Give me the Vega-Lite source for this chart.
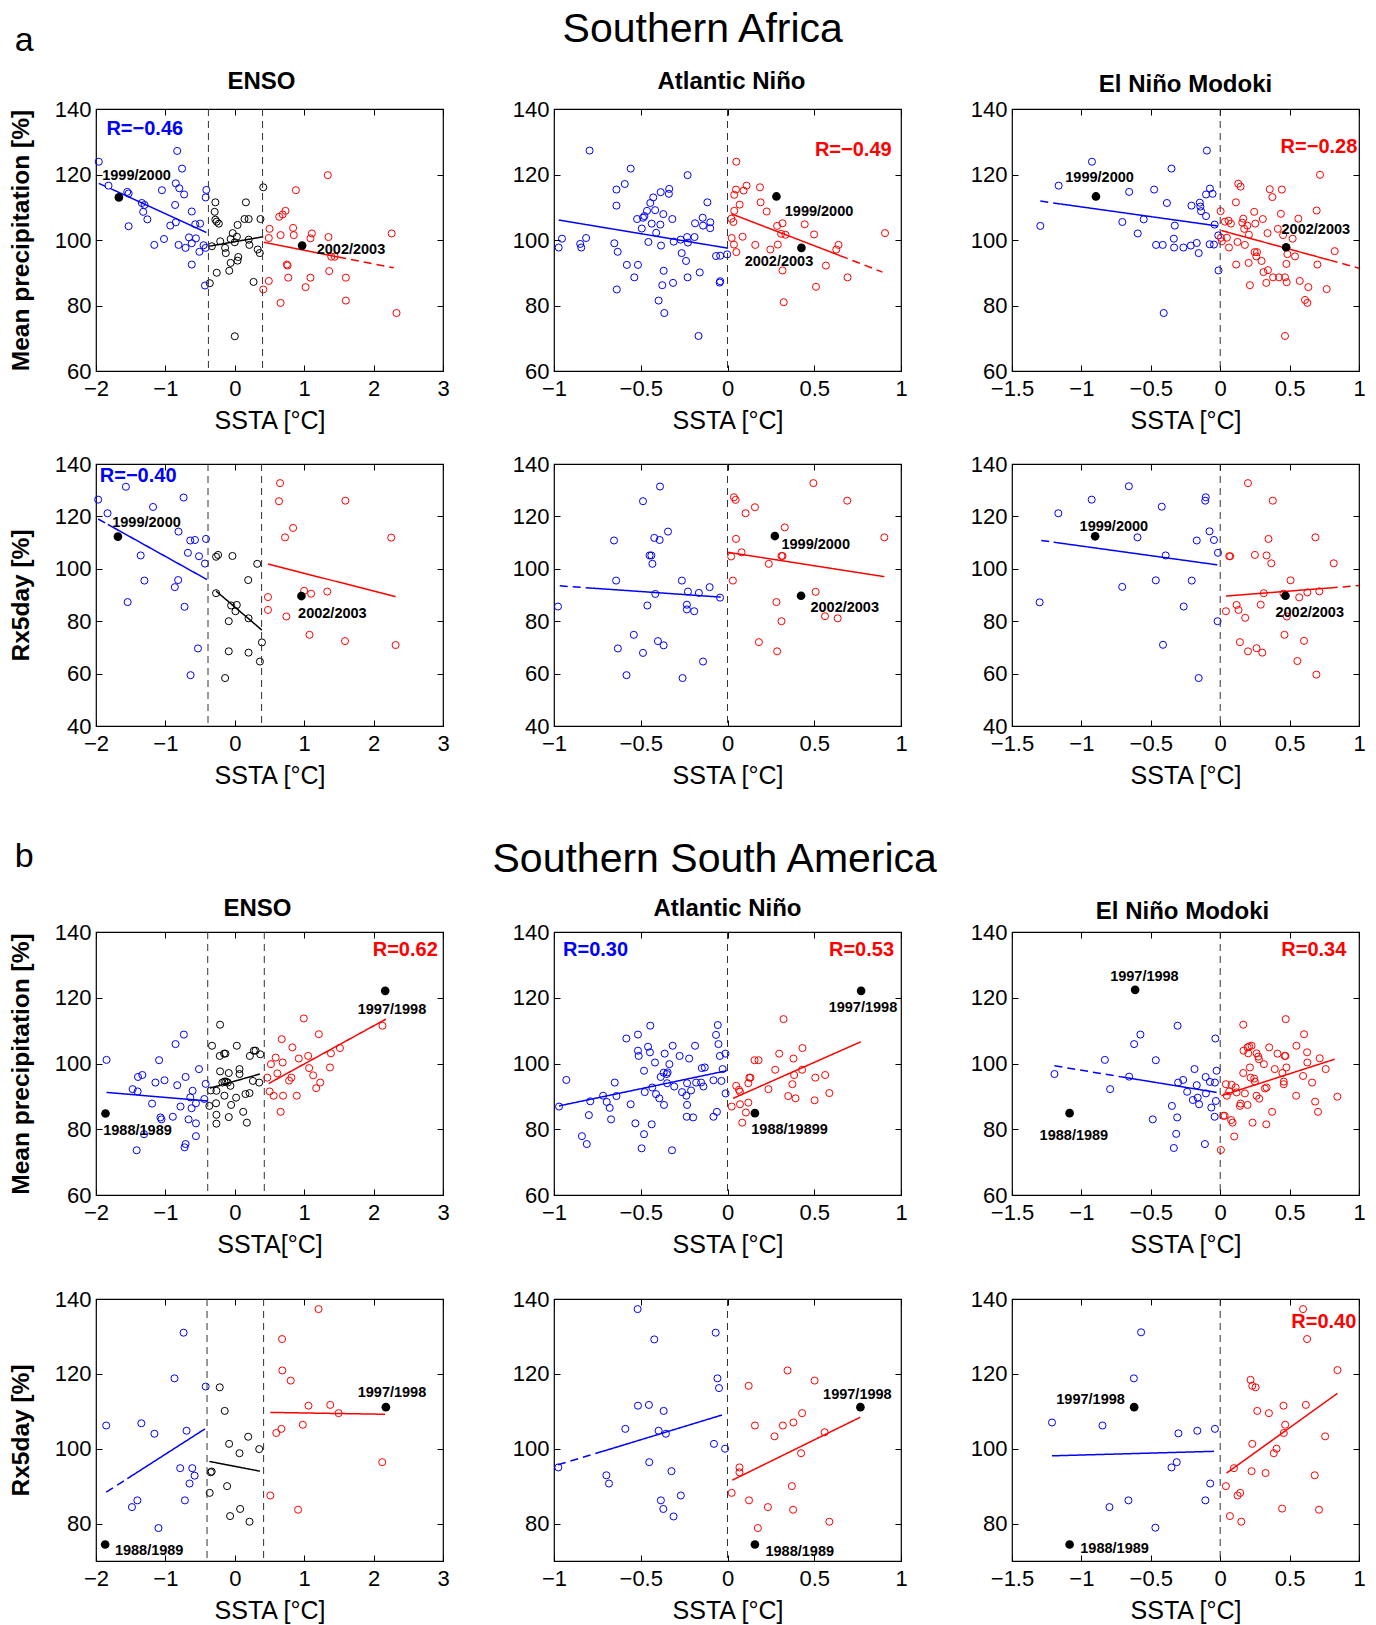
{
"$schema":"https://vega.github.io/schema/vega-lite/v6.json",
"autosize":{"type":"pad"},
"padding":{"left":7,"top":9,"right":5,"bottom":2},
"background":"#ffffff",
"spacing":50,
"datasets":{
"pts":[
{"p":"A1","g":"n","x":-1.96,"y":123.9},{"p":"A1","g":"n","x":-1.82,"y":116.6},{"p":"A1","g":"n","x":-0.83,"y":127.2},{"p":"A1","g":"n","x":-0.76,"y":121.8},{"p":"A1","g":"n","x":-1.55,"y":114.7},{"p":"A1","g":"n","x":-1.53,"y":114.2},{"p":"A1","g":"n","x":-1.34,"y":111.3},{"p":"A1","g":"n","x":-1.30,"y":110.7},{"p":"A1","g":"n","x":-1.32,"y":108.6},{"p":"A1","g":"n","x":-1.26,"y":106.3},{"p":"A1","g":"n","x":-1.53,"y":104.2},{"p":"A1","g":"n","x":-1.16,"y":98.5},{"p":"A1","g":"n","x":-1.02,"y":100.3},{"p":"A1","g":"n","x":-1.05,"y":115.2},{"p":"A1","g":"n","x":-0.85,"y":117.3},{"p":"A1","g":"n","x":-0.80,"y":115.8},{"p":"A1","g":"n","x":-0.73,"y":113.9},{"p":"A1","g":"n","x":-0.86,"y":110.7},{"p":"A1","g":"n","x":-0.85,"y":105.4},{"p":"A1","g":"n","x":-0.93,"y":104.4},{"p":"A1","g":"n","x":-0.62,"y":108.7},{"p":"A1","g":"n","x":-0.57,"y":104.8},{"p":"A1","g":"n","x":-0.50,"y":105.0},{"p":"A1","g":"n","x":-0.41,"y":115.3},{"p":"A1","g":"n","x":-0.42,"y":113.0},{"p":"A1","g":"n","x":-0.81,"y":98.5},{"p":"A1","g":"n","x":-0.71,"y":97.6},{"p":"A1","g":"n","x":-0.66,"y":100.8},{"p":"A1","g":"n","x":-0.62,"y":99.0},{"p":"A1","g":"n","x":-0.56,"y":100.5},{"p":"A1","g":"n","x":-0.51,"y":96.4},{"p":"A1","g":"n","x":-0.45,"y":98.4},{"p":"A1","g":"n","x":-0.42,"y":97.6},{"p":"A1","g":"n","x":-0.62,"y":92.5},{"p":"A1","g":"n","x":-0.43,"y":86.1},
{"p":"A1","g":"m","x":-0.36,"y":86.8},{"p":"A1","g":"m","x":-0.26,"y":90.0},{"p":"A1","g":"m","x":-0.08,"y":90.6},{"p":"A1","g":"m","x":-0.06,"y":93.0},{"p":"A1","g":"m","x":0.04,"y":93.7},{"p":"A1","g":"m","x":0.05,"y":94.8},{"p":"A1","g":"m","x":0.0,"y":70.6},{"p":"A1","g":"m","x":0.27,"y":87.2},{"p":"A1","g":"m","x":-0.33,"y":98.1},{"p":"A1","g":"m","x":-0.21,"y":99.6},{"p":"A1","g":"m","x":-0.14,"y":97.6},{"p":"A1","g":"m","x":-0.13,"y":96.0},{"p":"A1","g":"m","x":-0.06,"y":100.3},{"p":"A1","g":"m","x":-0.03,"y":102.1},{"p":"A1","g":"m","x":0.0,"y":99.3},{"p":"A1","g":"m","x":0.03,"y":101.0},{"p":"A1","g":"m","x":0.04,"y":104.6},{"p":"A1","g":"m","x":-0.28,"y":111.5},{"p":"A1","g":"m","x":-0.29,"y":108.6},{"p":"A1","g":"m","x":-0.28,"y":106.2},{"p":"A1","g":"m","x":-0.26,"y":105.6},{"p":"A1","g":"m","x":-0.23,"y":105.0},{"p":"A1","g":"m","x":0.16,"y":111.5},{"p":"A1","g":"m","x":0.14,"y":106.4},{"p":"A1","g":"m","x":0.20,"y":106.4},{"p":"A1","g":"m","x":0.37,"y":106.4},{"p":"A1","g":"m","x":0.20,"y":100.1},{"p":"A1","g":"m","x":0.21,"y":98.5},{"p":"A1","g":"m","x":0.33,"y":97.1},{"p":"A1","g":"m","x":0.36,"y":96.0},{"p":"A1","g":"m","x":0.41,"y":116.1},
{"p":"A1","g":"p","x":0.41,"y":84.9},{"p":"A1","g":"p","x":0.49,"y":87.5},{"p":"A1","g":"p","x":0.50,"y":103.4},{"p":"A1","g":"p","x":0.49,"y":100.6},{"p":"A1","g":"p","x":0.64,"y":107.1},{"p":"A1","g":"p","x":0.69,"y":107.8},{"p":"A1","g":"p","x":0.73,"y":108.9},{"p":"A1","g":"p","x":0.66,"y":101.5},{"p":"A1","g":"p","x":0.66,"y":80.8},{"p":"A1","g":"p","x":0.75,"y":92.5},{"p":"A1","g":"p","x":0.76,"y":92.2},{"p":"A1","g":"p","x":0.77,"y":88.5},{"p":"A1","g":"p","x":0.88,"y":115.2},{"p":"A1","g":"p","x":0.84,"y":103.7},{"p":"A1","g":"p","x":0.85,"y":101.5},{"p":"A1","g":"p","x":1.02,"y":85.6},{"p":"A1","g":"p","x":1.09,"y":88.5},{"p":"A1","g":"p","x":1.11,"y":102.0},{"p":"A1","g":"p","x":1.09,"y":100.5},{"p":"A1","g":"p","x":1.34,"y":119.8},{"p":"A1","g":"p","x":1.35,"y":100.9},{"p":"A1","g":"p","x":1.36,"y":90.5},{"p":"A1","g":"p","x":1.39,"y":94.9},{"p":"A1","g":"p","x":1.44,"y":94.9},{"p":"A1","g":"p","x":1.60,"y":88.5},{"p":"A1","g":"p","x":1.60,"y":81.5},{"p":"A1","g":"p","x":2.26,"y":102.0},{"p":"A1","g":"p","x":2.33,"y":77.7},
{"p":"A2","g":"n","x":-0.973,"y":97.7},{"p":"A2","g":"n","x":-0.954,"y":100.4},{"p":"A2","g":"n","x":-0.849,"y":98.8},{"p":"A2","g":"n","x":-0.843,"y":97.7},{"p":"A2","g":"n","x":-0.815,"y":100.6},{"p":"A2","g":"n","x":-0.795,"y":127.3},{"p":"A2","g":"n","x":-0.652,"y":99.0},{"p":"A2","g":"n","x":-0.633,"y":96.4},{"p":"A2","g":"n","x":-0.638,"y":84.9},{"p":"A2","g":"n","x":-0.640,"y":110.5},{"p":"A2","g":"n","x":-0.640,"y":115.4},{"p":"A2","g":"n","x":-0.592,"y":117.1},{"p":"A2","g":"n","x":-0.558,"y":121.8},{"p":"A2","g":"n","x":-0.580,"y":92.4},{"p":"A2","g":"n","x":-0.537,"y":88.6},{"p":"A2","g":"n","x":-0.516,"y":92.4},{"p":"A2","g":"n","x":-0.521,"y":106.4},{"p":"A2","g":"n","x":-0.494,"y":103.5},{"p":"A2","g":"n","x":-0.487,"y":106.8},{"p":"A2","g":"n","x":-0.479,"y":107.3},{"p":"A2","g":"n","x":-0.464,"y":108.9},{"p":"A2","g":"n","x":-0.445,"y":111.3},{"p":"A2","g":"n","x":-0.428,"y":113.0},{"p":"A2","g":"n","x":-0.437,"y":105.0},{"p":"A2","g":"n","x":-0.456,"y":99.4},{"p":"A2","g":"n","x":-0.417,"y":109.1},{"p":"A2","g":"n","x":-0.411,"y":102.2},{"p":"A2","g":"n","x":-0.385,"y":114.6},{"p":"A2","g":"n","x":-0.336,"y":115.6},{"p":"A2","g":"n","x":-0.338,"y":114.1},{"p":"A2","g":"n","x":-0.370,"y":107.9},{"p":"A2","g":"n","x":-0.387,"y":104.7},{"p":"A2","g":"n","x":-0.383,"y":98.3},{"p":"A2","g":"n","x":-0.368,"y":90.6},{"p":"A2","g":"n","x":-0.376,"y":86.2},{"p":"A2","g":"n","x":-0.397,"y":81.5},{"p":"A2","g":"n","x":-0.364,"y":77.7},{"p":"A2","g":"n","x":-0.318,"y":106.4},{"p":"A2","g":"n","x":-0.310,"y":99.5},{"p":"A2","g":"n","x":-0.314,"y":86.9},{"p":"A2","g":"n","x":-0.270,"y":100.1},{"p":"A2","g":"n","x":-0.264,"y":96.0},{"p":"A2","g":"n","x":-0.239,"y":93.6},{"p":"A2","g":"n","x":-0.233,"y":100.9},{"p":"A2","g":"n","x":-0.230,"y":119.8},{"p":"A2","g":"n","x":-0.228,"y":99.2},{"p":"A2","g":"n","x":-0.230,"y":88.6},{"p":"A2","g":"n","x":-0.190,"y":100.9},{"p":"A2","g":"n","x":-0.187,"y":105.1},{"p":"A2","g":"n","x":-0.160,"y":90.1},{"p":"A2","g":"n","x":-0.167,"y":70.7},{"p":"A2","g":"n","x":-0.143,"y":106.8},{"p":"A2","g":"n","x":-0.141,"y":104.4},{"p":"A2","g":"n","x":-0.116,"y":111.5},{"p":"A2","g":"n","x":-0.099,"y":105.4},{"p":"A2","g":"n","x":-0.100,"y":103.6},{"p":"A2","g":"n","x":-0.066,"y":95.1},{"p":"A2","g":"n","x":-0.042,"y":95.2},{"p":"A2","g":"n","x":-0.002,"y":95.6},{"p":"A2","g":"n","x":-0.042,"y":87.4},{"p":"A2","g":"n","x":-0.045,"y":87.0},
{"p":"A2","g":"p","x":0.051,"y":123.9},{"p":"A2","g":"p","x":0.049,"y":115.4},{"p":"A2","g":"p","x":0.039,"y":113.8},{"p":"A2","g":"p","x":0.093,"y":115.1},{"p":"A2","g":"p","x":0.110,"y":116.6},{"p":"A2","g":"p","x":0.070,"y":110.8},{"p":"A2","g":"p","x":0.039,"y":108.9},{"p":"A2","g":"p","x":0.022,"y":106.5},{"p":"A2","g":"p","x":0.034,"y":105.5},{"p":"A2","g":"p","x":0.024,"y":100.6},{"p":"A2","g":"p","x":0.037,"y":98.6},{"p":"A2","g":"p","x":0.051,"y":96.3},{"p":"A2","g":"p","x":0.087,"y":101.0},{"p":"A2","g":"p","x":0.160,"y":98.5},{"p":"A2","g":"p","x":0.187,"y":116.1},{"p":"A2","g":"p","x":0.191,"y":111.5},{"p":"A2","g":"p","x":0.226,"y":108.7},{"p":"A2","g":"p","x":0.247,"y":97.1},{"p":"A2","g":"p","x":0.286,"y":104.3},{"p":"A2","g":"p","x":0.290,"y":98.6},{"p":"A2","g":"p","x":0.317,"y":105.1},{"p":"A2","g":"p","x":0.309,"y":101.9},{"p":"A2","g":"p","x":0.334,"y":101.6},{"p":"A2","g":"p","x":0.317,"y":90.7},{"p":"A2","g":"p","x":0.324,"y":81.0},{"p":"A2","g":"p","x":0.445,"y":104.8},{"p":"A2","g":"p","x":0.499,"y":101.7},{"p":"A2","g":"p","x":0.510,"y":85.7},{"p":"A2","g":"p","x":0.567,"y":92.2},{"p":"A2","g":"p","x":0.627,"y":97.1},{"p":"A2","g":"p","x":0.640,"y":98.5},{"p":"A2","g":"p","x":0.692,"y":88.6},{"p":"A2","g":"p","x":0.908,"y":102.1},
{"p":"A3","g":"n","x":-1.296,"y":104.3},{"p":"A3","g":"n","x":-1.164,"y":116.6},{"p":"A3","g":"n","x":-0.924,"y":123.9},{"p":"A3","g":"n","x":-0.656,"y":114.7},{"p":"A3","g":"n","x":-0.705,"y":105.5},{"p":"A3","g":"n","x":-0.594,"y":102.0},{"p":"A3","g":"n","x":-0.551,"y":106.3},{"p":"A3","g":"n","x":-0.476,"y":115.4},{"p":"A3","g":"n","x":-0.384,"y":111.3},{"p":"A3","g":"n","x":-0.351,"y":121.8},{"p":"A3","g":"n","x":-0.462,"y":98.5},{"p":"A3","g":"n","x":-0.414,"y":98.5},{"p":"A3","g":"n","x":-0.407,"y":77.7},{"p":"A3","g":"n","x":-0.327,"y":104.4},{"p":"A3","g":"n","x":-0.334,"y":100.4},{"p":"A3","g":"n","x":-0.332,"y":97.7},{"p":"A3","g":"n","x":-0.265,"y":97.7},{"p":"A3","g":"n","x":-0.207,"y":110.5},{"p":"A3","g":"n","x":-0.212,"y":98.3},{"p":"A3","g":"n","x":-0.169,"y":99.1},{"p":"A3","g":"n","x":-0.155,"y":96.0},{"p":"A3","g":"n","x":-0.147,"y":111.4},{"p":"A3","g":"n","x":-0.138,"y":108.8},{"p":"A3","g":"n","x":-0.143,"y":110.2},{"p":"A3","g":"n","x":-0.102,"y":107.3},{"p":"A3","g":"n","x":-0.096,"y":127.3},{"p":"A3","g":"n","x":-0.102,"y":113.9},{"p":"A3","g":"n","x":-0.074,"y":115.7},{"p":"A3","g":"n","x":-0.055,"y":114.1},{"p":"A3","g":"n","x":-0.040,"y":104.7},{"p":"A3","g":"n","x":-0.076,"y":98.7},{"p":"A3","g":"n","x":-0.045,"y":98.6},{"p":"A3","g":"n","x":-0.014,"y":101.4},{"p":"A3","g":"n","x":-0.012,"y":90.7},
{"p":"A3","g":"p","x":0.003,"y":108.8},{"p":"A3","g":"p","x":0.005,"y":100.7},{"p":"A3","g":"p","x":0.012,"y":99.6},{"p":"A3","g":"p","x":0.034,"y":105.6},{"p":"A3","g":"p","x":0.060,"y":105.9},{"p":"A3","g":"p","x":0.077,"y":105.0},{"p":"A3","g":"p","x":0.048,"y":100.7},{"p":"A3","g":"p","x":0.063,"y":97.7},{"p":"A3","g":"p","x":0.113,"y":111.5},{"p":"A3","g":"p","x":0.130,"y":117.2},{"p":"A3","g":"p","x":0.147,"y":116.3},{"p":"A3","g":"p","x":0.125,"y":99.4},{"p":"A3","g":"p","x":0.115,"y":92.5},{"p":"A3","g":"p","x":0.166,"y":106.5},{"p":"A3","g":"p","x":0.159,"y":105.3},{"p":"A3","g":"p","x":0.173,"y":103.4},{"p":"A3","g":"p","x":0.195,"y":104.4},{"p":"A3","g":"p","x":0.178,"y":98.5},{"p":"A3","g":"p","x":0.207,"y":101.6},{"p":"A3","g":"p","x":0.205,"y":93.0},{"p":"A3","g":"p","x":0.214,"y":86.2},{"p":"A3","g":"p","x":0.245,"y":108.6},{"p":"A3","g":"p","x":0.253,"y":105.0},{"p":"A3","g":"p","x":0.248,"y":96.3},{"p":"A3","g":"p","x":0.265,"y":96.3},{"p":"A3","g":"p","x":0.260,"y":95.0},{"p":"A3","g":"p","x":0.298,"y":93.6},{"p":"A3","g":"p","x":0.307,"y":106.4},{"p":"A3","g":"p","x":0.312,"y":90.2},{"p":"A3","g":"p","x":0.341,"y":102.1},{"p":"A3","g":"p","x":0.344,"y":90.8},{"p":"A3","g":"p","x":0.332,"y":86.9},{"p":"A3","g":"p","x":0.357,"y":115.5},{"p":"A3","g":"p","x":0.376,"y":113.1},{"p":"A3","g":"p","x":0.381,"y":88.6},{"p":"A3","g":"p","x":0.424,"y":88.6},{"p":"A3","g":"p","x":0.415,"y":103.4},{"p":"A3","g":"p","x":0.437,"y":108.0},{"p":"A3","g":"p","x":0.444,"y":115.4},{"p":"A3","g":"p","x":0.453,"y":101.5},{"p":"A3","g":"p","x":0.467,"y":88.6},{"p":"A3","g":"p","x":0.479,"y":87.1},{"p":"A3","g":"p","x":0.484,"y":95.7},{"p":"A3","g":"p","x":0.477,"y":92.7},{"p":"A3","g":"p","x":0.522,"y":100.4},{"p":"A3","g":"p","x":0.539,"y":95.0},{"p":"A3","g":"p","x":0.563,"y":106.5},{"p":"A3","g":"p","x":0.573,"y":87.5},{"p":"A3","g":"p","x":0.635,"y":85.6},{"p":"A3","g":"p","x":0.611,"y":81.7},{"p":"A3","g":"p","x":0.628,"y":80.8},{"p":"A3","g":"p","x":0.695,"y":109.0},{"p":"A3","g":"p","x":0.700,"y":92.5},{"p":"A3","g":"p","x":0.719,"y":119.9},{"p":"A3","g":"p","x":0.767,"y":85.0},{"p":"A3","g":"p","x":0.825,"y":96.6},{"p":"A3","g":"p","x":0.467,"y":70.7},
{"p":"A4","g":"n","x":-1.969,"y":126.4},{"p":"A4","g":"n","x":-1.834,"y":121.2},{"p":"A4","g":"n","x":-1.569,"y":131.3},{"p":"A4","g":"n","x":-1.178,"y":123.6},{"p":"A4","g":"n","x":-0.738,"y":127.2},{"p":"A4","g":"n","x":-1.356,"y":105.1},{"p":"A4","g":"n","x":-1.303,"y":95.5},{"p":"A4","g":"n","x":-1.544,"y":87.3},{"p":"A4","g":"n","x":-0.811,"y":114.2},{"p":"A4","g":"n","x":-0.642,"y":110.8},{"p":"A4","g":"n","x":-0.574,"y":111.0},{"p":"A4","g":"n","x":-0.415,"y":111.4},{"p":"A4","g":"n","x":-0.676,"y":106.1},{"p":"A4","g":"n","x":-0.516,"y":104.8},{"p":"A4","g":"n","x":-0.430,"y":102.0},{"p":"A4","g":"n","x":-0.816,"y":95.7},{"p":"A4","g":"n","x":-0.864,"y":93.0},{"p":"A4","g":"n","x":-0.724,"y":85.5},{"p":"A4","g":"n","x":-0.531,"y":69.6},{"p":"A4","g":"n","x":-0.637,"y":59.4},
{"p":"A4","g":"m","x":-0.270,"y":104.6},{"p":"A4","g":"m","x":-0.241,"y":105.3},{"p":"A4","g":"m","x":-0.034,"y":104.9},{"p":"A4","g":"m","x":0.323,"y":101.9},{"p":"A4","g":"m","x":0.193,"y":95.7},{"p":"A4","g":"m","x":-0.270,"y":90.7},{"p":"A4","g":"m","x":-0.053,"y":86.0},{"p":"A4","g":"m","x":0.029,"y":86.2},{"p":"A4","g":"m","x":0.010,"y":83.8},{"p":"A4","g":"m","x":-0.087,"y":80.0},{"p":"A4","g":"m","x":0.198,"y":81.1},{"p":"A4","g":"m","x":-0.087,"y":68.5},{"p":"A4","g":"m","x":0.198,"y":68.0},{"p":"A4","g":"m","x":0.391,"y":71.9},{"p":"A4","g":"m","x":0.362,"y":64.6},{"p":"A4","g":"m","x":-0.140,"y":58.3},
{"p":"A4","g":"p","x":0.652,"y":132.7},{"p":"A4","g":"p","x":0.637,"y":125.8},{"p":"A4","g":"p","x":1.593,"y":126.0},{"p":"A4","g":"p","x":0.840,"y":115.6},{"p":"A4","g":"p","x":0.724,"y":112.0},{"p":"A4","g":"p","x":2.254,"y":111.9},{"p":"A4","g":"p","x":0.478,"y":89.2},{"p":"A4","g":"p","x":0.478,"y":84.3},{"p":"A4","g":"p","x":0.743,"y":81.8},{"p":"A4","g":"p","x":0.999,"y":91.6},{"p":"A4","g":"p","x":1.100,"y":90.5},{"p":"A4","g":"p","x":1.332,"y":91.3},{"p":"A4","g":"p","x":1.076,"y":74.8},{"p":"A4","g":"p","x":1.588,"y":72.4},{"p":"A4","g":"p","x":2.317,"y":70.9},
{"p":"A5","g":"n","x":-0.977,"y":85.6},{"p":"A5","g":"n","x":-0.654,"y":110.8},{"p":"A5","g":"n","x":-0.642,"y":95.5},{"p":"A5","g":"n","x":-0.632,"y":69.6},{"p":"A5","g":"n","x":-0.582,"y":59.4},{"p":"A5","g":"n","x":-0.540,"y":74.8},{"p":"A5","g":"n","x":-0.487,"y":125.8},{"p":"A5","g":"n","x":-0.487,"y":67.9},{"p":"A5","g":"n","x":-0.462,"y":86.0},{"p":"A5","g":"n","x":-0.449,"y":105.1},{"p":"A5","g":"n","x":-0.439,"y":105.1},{"p":"A5","g":"n","x":-0.433,"y":101.9},{"p":"A5","g":"n","x":-0.422,"y":111.8},{"p":"A5","g":"n","x":-0.391,"y":111.0},{"p":"A5","g":"n","x":-0.389,"y":131.4},{"p":"A5","g":"n","x":-0.401,"y":72.4},{"p":"A5","g":"n","x":-0.368,"y":70.8},{"p":"A5","g":"n","x":-0.416,"y":90.4},{"p":"A5","g":"n","x":-0.343,"y":114.2},{"p":"A5","g":"n","x":-0.263,"y":95.5},{"p":"A5","g":"n","x":-0.259,"y":58.3},{"p":"A5","g":"n","x":-0.234,"y":86.3},{"p":"A5","g":"n","x":-0.234,"y":84.5},{"p":"A5","g":"n","x":-0.228,"y":91.3},{"p":"A5","g":"n","x":-0.192,"y":83.8},{"p":"A5","g":"n","x":-0.165,"y":90.8},{"p":"A5","g":"n","x":-0.141,"y":64.6},{"p":"A5","g":"n","x":-0.103,"y":93.0},{"p":"A5","g":"n","x":-0.043,"y":89.0},
{"p":"A5","g":"p","x":0.037,"y":127.3},{"p":"A5","g":"p","x":0.047,"y":126.3},{"p":"A5","g":"p","x":0.104,"y":121.2},{"p":"A5","g":"p","x":0.158,"y":123.5},{"p":"A5","g":"p","x":0.495,"y":132.7},{"p":"A5","g":"p","x":0.690,"y":126.0},{"p":"A5","g":"p","x":0.330,"y":115.8},{"p":"A5","g":"p","x":0.049,"y":111.4},{"p":"A5","g":"p","x":0.904,"y":112.0},{"p":"A5","g":"p","x":0.021,"y":104.7},{"p":"A5","g":"p","x":0.081,"y":106.3},{"p":"A5","g":"p","x":0.238,"y":101.9},{"p":"A5","g":"p","x":0.311,"y":104.9},{"p":"A5","g":"p","x":0.317,"y":104.9},{"p":"A5","g":"p","x":0.031,"y":95.5},{"p":"A5","g":"p","x":0.508,"y":91.2},{"p":"A5","g":"p","x":0.282,"y":87.3},{"p":"A5","g":"p","x":0.311,"y":80.0},{"p":"A5","g":"p","x":0.562,"y":81.9},{"p":"A5","g":"p","x":0.635,"y":81.1},{"p":"A5","g":"p","x":0.181,"y":72.0},{"p":"A5","g":"p","x":0.286,"y":68.5},
{"p":"A6","g":"n","x":-1.301,"y":87.2},{"p":"A6","g":"n","x":-1.166,"y":121.2},{"p":"A6","g":"n","x":-0.926,"y":126.4},{"p":"A6","g":"n","x":-0.658,"y":131.5},{"p":"A6","g":"n","x":-0.596,"y":112.0},{"p":"A6","g":"n","x":-0.706,"y":93.1},{"p":"A6","g":"n","x":-0.464,"y":95.6},{"p":"A6","g":"n","x":-0.421,"y":123.7},{"p":"A6","g":"n","x":-0.393,"y":105.1},{"p":"A6","g":"n","x":-0.412,"y":71.0},{"p":"A6","g":"n","x":-0.263,"y":85.6},{"p":"A6","g":"n","x":-0.205,"y":95.5},{"p":"A6","g":"n","x":-0.169,"y":110.8},{"p":"A6","g":"n","x":-0.104,"y":127.3},{"p":"A6","g":"n","x":-0.108,"y":126.0},{"p":"A6","g":"n","x":-0.077,"y":114.3},{"p":"A6","g":"n","x":-0.045,"y":111.0},{"p":"A6","g":"n","x":-0.016,"y":106.1},{"p":"A6","g":"n","x":-0.155,"y":58.3},{"p":"A6","g":"n","x":-0.019,"y":80.0},
{"p":"A6","g":"p","x":0.200,"y":132.7},{"p":"A6","g":"p","x":0.379,"y":126.0},{"p":"A6","g":"p","x":0.348,"y":111.4},{"p":"A6","g":"p","x":0.686,"y":112.0},{"p":"A6","g":"p","x":0.065,"y":104.8},{"p":"A6","g":"p","x":0.072,"y":104.8},{"p":"A6","g":"p","x":0.250,"y":105.3},{"p":"A6","g":"p","x":0.334,"y":105.1},{"p":"A6","g":"p","x":0.368,"y":102.1},{"p":"A6","g":"p","x":0.818,"y":102.1},{"p":"A6","g":"p","x":0.507,"y":95.6},{"p":"A6","g":"p","x":0.041,"y":83.8},{"p":"A6","g":"p","x":0.118,"y":86.2},{"p":"A6","g":"p","x":0.132,"y":84.3},{"p":"A6","g":"p","x":0.180,"y":81.3},{"p":"A6","g":"p","x":0.292,"y":86.3},{"p":"A6","g":"p","x":0.314,"y":90.7},{"p":"A6","g":"p","x":0.456,"y":90.5},{"p":"A6","g":"p","x":0.480,"y":81.8},{"p":"A6","g":"p","x":0.569,"y":89.1},{"p":"A6","g":"p","x":0.628,"y":91.0},{"p":"A6","g":"p","x":0.714,"y":91.4},{"p":"A6","g":"p","x":0.142,"y":72.0},{"p":"A6","g":"p","x":0.200,"y":68.5},{"p":"A6","g":"p","x":0.262,"y":69.7},{"p":"A6","g":"p","x":0.303,"y":68.0},{"p":"A6","g":"p","x":0.463,"y":74.8},{"p":"A6","g":"p","x":0.604,"y":72.5},{"p":"A6","g":"p","x":0.556,"y":64.8},{"p":"A6","g":"p","x":0.693,"y":59.6},
{"p":"B1","g":"n","x":-1.848,"y":101.1},{"p":"B1","g":"n","x":-1.472,"y":92.2},{"p":"B1","g":"n","x":-1.400,"y":91.5},{"p":"B1","g":"n","x":-1.395,"y":95.9},{"p":"B1","g":"n","x":-1.332,"y":96.5},{"p":"B1","g":"n","x":-1.414,"y":73.6},{"p":"B1","g":"n","x":-1.308,"y":78.5},{"p":"B1","g":"n","x":-1.192,"y":87.8},{"p":"B1","g":"n","x":-1.144,"y":94.2},{"p":"B1","g":"n","x":-1.091,"y":101.0},{"p":"B1","g":"n","x":-1.071,"y":83.6},{"p":"B1","g":"n","x":-1.057,"y":83.0},{"p":"B1","g":"n","x":-1.013,"y":94.9},{"p":"B1","g":"n","x":-0.893,"y":83.8},{"p":"B1","g":"n","x":-0.854,"y":105.9},{"p":"B1","g":"n","x":-0.830,"y":93.4},{"p":"B1","g":"n","x":-0.782,"y":86.9},{"p":"B1","g":"n","x":-0.734,"y":108.8},{"p":"B1","g":"n","x":-0.709,"y":95.9},{"p":"B1","g":"n","x":-0.724,"y":74.5},{"p":"B1","g":"n","x":-0.709,"y":75.5},{"p":"B1","g":"n","x":-0.666,"y":83.0},{"p":"B1","g":"n","x":-0.642,"y":89.7},{"p":"B1","g":"n","x":-0.623,"y":86.4},{"p":"B1","g":"n","x":-0.608,"y":91.7},{"p":"B1","g":"n","x":-0.560,"y":87.9},{"p":"B1","g":"n","x":-0.560,"y":81.8},{"p":"B1","g":"n","x":-0.560,"y":77.9},{"p":"B1","g":"n","x":-0.516,"y":98.3},{"p":"B1","g":"n","x":-0.420,"y":93.8},{"p":"B1","g":"n","x":-0.439,"y":89.2},
{"p":"B1","g":"m","x":-0.367,"y":87.1},{"p":"B1","g":"m","x":-0.347,"y":91.8},{"p":"B1","g":"m","x":-0.328,"y":105.4},{"p":"B1","g":"m","x":-0.270,"y":87.9},{"p":"B1","g":"m","x":-0.265,"y":84.4},{"p":"B1","g":"m","x":-0.265,"y":81.7},{"p":"B1","g":"m","x":-0.265,"y":91.7},{"p":"B1","g":"m","x":-0.217,"y":102.3},{"p":"B1","g":"m","x":-0.212,"y":111.8},{"p":"B1","g":"m","x":-0.212,"y":97.6},{"p":"B1","g":"m","x":-0.154,"y":103.0},{"p":"B1","g":"m","x":-0.135,"y":103.0},{"p":"B1","g":"m","x":-0.150,"y":90.2},{"p":"B1","g":"m","x":-0.179,"y":94.2},{"p":"B1","g":"m","x":-0.150,"y":94.5},{"p":"B1","g":"m","x":-0.125,"y":94.5},{"p":"B1","g":"m","x":-0.101,"y":94.2},{"p":"B1","g":"m","x":-0.087,"y":83.7},{"p":"B1","g":"m","x":-0.063,"y":93.2},{"p":"B1","g":"m","x":-0.053,"y":87.4},{"p":"B1","g":"m","x":-0.087,"y":97.1},{"p":"B1","g":"m","x":0.019,"y":89.6},{"p":"B1","g":"m","x":0.029,"y":105.4},{"p":"B1","g":"m","x":0.068,"y":98.3},{"p":"B1","g":"m","x":0.068,"y":96.8},{"p":"B1","g":"m","x":0.121,"y":85.3},{"p":"B1","g":"m","x":0.154,"y":90.7},{"p":"B1","g":"m","x":0.174,"y":82.0},{"p":"B1","g":"m","x":0.212,"y":91.0},{"p":"B1","g":"m","x":0.217,"y":102.3},{"p":"B1","g":"m","x":0.275,"y":103.9},{"p":"B1","g":"m","x":0.261,"y":94.7},{"p":"B1","g":"m","x":0.299,"y":103.9},{"p":"B1","g":"m","x":0.352,"y":94.2},{"p":"B1","g":"m","x":0.367,"y":102.8},
{"p":"B1","g":"p","x":0.468,"y":95.7},{"p":"B1","g":"p","x":0.521,"y":99.8},{"p":"B1","g":"p","x":0.502,"y":91.5},{"p":"B1","g":"p","x":0.560,"y":90.2},{"p":"B1","g":"p","x":0.589,"y":101.8},{"p":"B1","g":"p","x":0.613,"y":97.0},{"p":"B1","g":"p","x":0.676,"y":107.4},{"p":"B1","g":"p","x":0.690,"y":100.3},{"p":"B1","g":"p","x":0.695,"y":90.2},{"p":"B1","g":"p","x":0.661,"y":85.3},{"p":"B1","g":"p","x":0.782,"y":94.8},{"p":"B1","g":"p","x":0.815,"y":95.7},{"p":"B1","g":"p","x":0.830,"y":104.9},{"p":"B1","g":"p","x":0.893,"y":90.2},{"p":"B1","g":"p","x":0.922,"y":101.5},{"p":"B1","g":"p","x":0.994,"y":113.7},{"p":"B1","g":"p","x":1.057,"y":102.3},{"p":"B1","g":"p","x":1.071,"y":98.6},{"p":"B1","g":"p","x":1.129,"y":96.4},{"p":"B1","g":"p","x":1.173,"y":92.5},{"p":"B1","g":"p","x":1.231,"y":94.2},{"p":"B1","g":"p","x":1.211,"y":108.9},{"p":"B1","g":"p","x":1.371,"y":98.8},{"p":"B1","g":"p","x":1.385,"y":103.1},{"p":"B1","g":"p","x":1.515,"y":104.7},{"p":"B1","g":"p","x":2.128,"y":111.5},
{"p":"B2","g":"n","x":-0.971,"y":86.9},{"p":"B2","g":"n","x":-0.929,"y":95.0},{"p":"B2","g":"n","x":-0.839,"y":77.9},{"p":"B2","g":"n","x":-0.811,"y":75.5},{"p":"B2","g":"n","x":-0.799,"y":84.3},{"p":"B2","g":"n","x":-0.791,"y":88.5},{"p":"B2","g":"n","x":-0.717,"y":90.2},{"p":"B2","g":"n","x":-0.696,"y":88.3},{"p":"B2","g":"n","x":-0.679,"y":86.5},{"p":"B2","g":"n","x":-0.671,"y":83.0},{"p":"B2","g":"n","x":-0.650,"y":94.2},{"p":"B2","g":"n","x":-0.640,"y":90.1},{"p":"B2","g":"n","x":-0.583,"y":107.6},{"p":"B2","g":"n","x":-0.558,"y":87.6},{"p":"B2","g":"n","x":-0.531,"y":81.8},{"p":"B2","g":"n","x":-0.516,"y":108.8},{"p":"B2","g":"n","x":-0.516,"y":103.9},{"p":"B2","g":"n","x":-0.512,"y":102.3},{"p":"B2","g":"n","x":-0.495,"y":74.2},{"p":"B2","g":"n","x":-0.481,"y":97.8},{"p":"B2","g":"n","x":-0.481,"y":78.5},{"p":"B2","g":"n","x":-0.477,"y":91.3},{"p":"B2","g":"n","x":-0.458,"y":105.1},{"p":"B2","g":"n","x":-0.447,"y":103.4},{"p":"B2","g":"n","x":-0.445,"y":111.5},{"p":"B2","g":"n","x":-0.437,"y":81.5},{"p":"B2","g":"n","x":-0.434,"y":92.7},{"p":"B2","g":"n","x":-0.418,"y":100.3},{"p":"B2","g":"n","x":-0.412,"y":90.7},{"p":"B2","g":"n","x":-0.393,"y":89.4},{"p":"B2","g":"n","x":-0.385,"y":95.9},{"p":"B2","g":"n","x":-0.368,"y":97.2},{"p":"B2","g":"n","x":-0.366,"y":87.4},{"p":"B2","g":"n","x":-0.362,"y":103.0},{"p":"B2","g":"n","x":-0.350,"y":96.8},{"p":"B2","g":"n","x":-0.348,"y":94.0},{"p":"B2","g":"n","x":-0.345,"y":97.3},{"p":"B2","g":"n","x":-0.335,"y":99.8},{"p":"B2","g":"n","x":-0.320,"y":73.6},{"p":"B2","g":"n","x":-0.316,"y":105.4},{"p":"B2","g":"n","x":-0.307,"y":93.0},{"p":"B2","g":"n","x":-0.276,"y":102.3},{"p":"B2","g":"n","x":-0.262,"y":91.3},{"p":"B2","g":"n","x":-0.237,"y":90.2},{"p":"B2","g":"n","x":-0.233,"y":94.0},{"p":"B2","g":"n","x":-0.233,"y":87.4},{"p":"B2","g":"n","x":-0.235,"y":83.8},{"p":"B2","g":"n","x":-0.221,"y":101.5},{"p":"B2","g":"n","x":-0.210,"y":91.8},{"p":"B2","g":"n","x":-0.198,"y":83.6},{"p":"B2","g":"n","x":-0.187,"y":105.4},{"p":"B2","g":"n","x":-0.181,"y":94.2},{"p":"B2","g":"n","x":-0.148,"y":98.6},{"p":"B2","g":"n","x":-0.131,"y":98.8},{"p":"B2","g":"n","x":-0.152,"y":94.2},{"p":"B2","g":"n","x":-0.139,"y":93.0},{"p":"B2","g":"n","x":-0.081,"y":94.9},{"p":"B2","g":"n","x":-0.081,"y":83.8},{"p":"B2","g":"n","x":-0.066,"y":108.7},{"p":"B2","g":"n","x":-0.056,"y":111.7},{"p":"B2","g":"n","x":-0.061,"y":85.3},{"p":"B2","g":"n","x":-0.052,"y":105.9},{"p":"B2","g":"n","x":-0.044,"y":102.3},{"p":"B2","g":"n","x":-0.035,"y":94.7},{"p":"B2","g":"n","x":-0.028,"y":98.3},{"p":"B2","g":"n","x":-0.012,"y":103.0},{"p":"B2","g":"n","x":-0.011,"y":90.9},
{"p":"B2","g":"p","x":0.024,"y":86.9},{"p":"B2","g":"p","x":0.050,"y":93.2},{"p":"B2","g":"p","x":0.066,"y":92.0},{"p":"B2","g":"p","x":0.072,"y":91.4},{"p":"B2","g":"p","x":0.072,"y":87.6},{"p":"B2","g":"p","x":0.085,"y":82.0},{"p":"B2","g":"p","x":0.106,"y":85.1},{"p":"B2","g":"p","x":0.120,"y":94.0},{"p":"B2","g":"p","x":0.126,"y":95.7},{"p":"B2","g":"p","x":0.132,"y":95.7},{"p":"B2","g":"p","x":0.120,"y":88.1},{"p":"B2","g":"p","x":0.156,"y":101.0},{"p":"B2","g":"p","x":0.179,"y":101.0},{"p":"B2","g":"p","x":0.236,"y":92.2},{"p":"B2","g":"p","x":0.275,"y":98.1},{"p":"B2","g":"p","x":0.298,"y":103.0},{"p":"B2","g":"p","x":0.323,"y":113.5},{"p":"B2","g":"p","x":0.350,"y":90.1},{"p":"B2","g":"p","x":0.374,"y":93.7},{"p":"B2","g":"p","x":0.380,"y":101.5},{"p":"B2","g":"p","x":0.384,"y":96.5},{"p":"B2","g":"p","x":0.392,"y":89.4},{"p":"B2","g":"p","x":0.430,"y":98.1},{"p":"B2","g":"p","x":0.432,"y":104.7},{"p":"B2","g":"p","x":0.502,"y":88.8},{"p":"B2","g":"p","x":0.506,"y":95.7},{"p":"B2","g":"p","x":0.563,"y":96.5},{"p":"B2","g":"p","x":0.587,"y":91.0},
{"p":"B3","g":"n","x":-1.194,"y":96.8},{"p":"B3","g":"n","x":-0.831,"y":101.1},{"p":"B3","g":"n","x":-0.793,"y":92.2},{"p":"B3","g":"n","x":-0.656,"y":96.0},{"p":"B3","g":"n","x":-0.620,"y":105.9},{"p":"B3","g":"n","x":-0.575,"y":108.8},{"p":"B3","g":"n","x":-0.464,"y":101.0},{"p":"B3","g":"n","x":-0.486,"y":83.0},{"p":"B3","g":"n","x":-0.348,"y":87.1},{"p":"B3","g":"n","x":-0.310,"y":83.6},{"p":"B3","g":"n","x":-0.317,"y":78.6},{"p":"B3","g":"n","x":-0.334,"y":74.3},{"p":"B3","g":"n","x":-0.307,"y":111.5},{"p":"B3","g":"n","x":-0.303,"y":94.2},{"p":"B3","g":"n","x":-0.267,"y":95.0},{"p":"B3","g":"n","x":-0.238,"y":91.4},{"p":"B3","g":"n","x":-0.185,"y":98.3},{"p":"B3","g":"n","x":-0.197,"y":88.9},{"p":"B3","g":"n","x":-0.169,"y":93.4},{"p":"B3","g":"n","x":-0.162,"y":89.6},{"p":"B3","g":"n","x":-0.152,"y":87.6},{"p":"B3","g":"n","x":-0.105,"y":95.9},{"p":"B3","g":"n","x":-0.103,"y":90.9},{"p":"B3","g":"n","x":-0.110,"y":75.5},{"p":"B3","g":"n","x":-0.074,"y":94.4},{"p":"B3","g":"n","x":-0.064,"y":86.6},{"p":"B3","g":"n","x":-0.038,"y":94.2},{"p":"B3","g":"n","x":-0.040,"y":83.8},{"p":"B3","g":"n","x":-0.026,"y":97.8},{"p":"B3","g":"n","x":-0.031,"y":88.6},{"p":"B3","g":"n","x":-0.035,"y":107.6},
{"p":"B3","g":"p","x":0.022,"y":84.1},{"p":"B3","g":"p","x":0.032,"y":84.1},{"p":"B3","g":"p","x":0.005,"y":73.7},{"p":"B3","g":"p","x":0.041,"y":93.7},{"p":"B3","g":"p","x":0.048,"y":90.2},{"p":"B3","g":"p","x":0.065,"y":91.5},{"p":"B3","g":"p","x":0.079,"y":82.8},{"p":"B3","g":"p","x":0.089,"y":82.0},{"p":"B3","g":"p","x":0.082,"y":93.5},{"p":"B3","g":"p","x":0.101,"y":77.8},{"p":"B3","g":"p","x":0.111,"y":92.7},{"p":"B3","g":"p","x":0.118,"y":91.2},{"p":"B3","g":"p","x":0.142,"y":87.1},{"p":"B3","g":"p","x":0.147,"y":87.8},{"p":"B3","g":"p","x":0.166,"y":111.8},{"p":"B3","g":"p","x":0.168,"y":103.9},{"p":"B3","g":"p","x":0.166,"y":97.1},{"p":"B3","g":"p","x":0.178,"y":90.9},{"p":"B3","g":"p","x":0.197,"y":87.4},{"p":"B3","g":"p","x":0.202,"y":103.1},{"p":"B3","g":"p","x":0.197,"y":104.9},{"p":"B3","g":"p","x":0.209,"y":105.2},{"p":"B3","g":"p","x":0.214,"y":98.8},{"p":"B3","g":"p","x":0.219,"y":95.7},{"p":"B3","g":"p","x":0.226,"y":105.4},{"p":"B3","g":"p","x":0.233,"y":82.0},{"p":"B3","g":"p","x":0.245,"y":95.4},{"p":"B3","g":"p","x":0.250,"y":94.5},{"p":"B3","g":"p","x":0.262,"y":103.1},{"p":"B3","g":"p","x":0.274,"y":102.1},{"p":"B3","g":"p","x":0.279,"y":101.3},{"p":"B3","g":"p","x":0.262,"y":90.2},{"p":"B3","g":"p","x":0.281,"y":89.3},{"p":"B3","g":"p","x":0.315,"y":99.8},{"p":"B3","g":"p","x":0.322,"y":92.4},{"p":"B3","g":"p","x":0.334,"y":92.7},{"p":"B3","g":"p","x":0.332,"y":81.5},{"p":"B3","g":"p","x":0.353,"y":104.9},{"p":"B3","g":"p","x":0.374,"y":85.3},{"p":"B3","g":"p","x":0.393,"y":98.3},{"p":"B3","g":"p","x":0.413,"y":103.0},{"p":"B3","g":"p","x":0.448,"y":97.1},{"p":"B3","g":"p","x":0.458,"y":94.5},{"p":"B3","g":"p","x":0.458,"y":93.7},{"p":"B3","g":"p","x":0.465,"y":102.3},{"p":"B3","g":"p","x":0.470,"y":102.3},{"p":"B3","g":"p","x":0.472,"y":113.5},{"p":"B3","g":"p","x":0.477,"y":98.8},{"p":"B3","g":"p","x":0.549,"y":105.4},{"p":"B3","g":"p","x":0.547,"y":90.2},{"p":"B3","g":"p","x":0.597,"y":96.2},{"p":"B3","g":"p","x":0.604,"y":108.9},{"p":"B3","g":"p","x":0.626,"y":103.4},{"p":"B3","g":"p","x":0.628,"y":100.3},{"p":"B3","g":"p","x":0.662,"y":94.2},{"p":"B3","g":"p","x":0.684,"y":88.4},{"p":"B3","g":"p","x":0.705,"y":85.3},{"p":"B3","g":"p","x":0.717,"y":101.6},{"p":"B3","g":"p","x":0.760,"y":98.3},{"p":"B3","g":"p","x":0.844,"y":89.9},
{"p":"B4","g":"n","x":-1.853,"y":106.2},{"p":"B4","g":"n","x":-1.347,"y":106.8},{"p":"B4","g":"n","x":-1.158,"y":104.0},{"p":"B4","g":"n","x":-0.738,"y":131.0},{"p":"B4","g":"n","x":-0.869,"y":118.8},{"p":"B4","g":"n","x":-0.420,"y":116.6},{"p":"B4","g":"n","x":-0.695,"y":104.8},{"p":"B4","g":"n","x":-1.482,"y":84.4},{"p":"B4","g":"n","x":-1.404,"y":86.2},{"p":"B4","g":"n","x":-1.100,"y":78.8},{"p":"B4","g":"n","x":-0.787,"y":94.8},{"p":"B4","g":"n","x":-0.613,"y":94.8},{"p":"B4","g":"n","x":-0.579,"y":92.8},{"p":"B4","g":"n","x":-0.652,"y":90.7},{"p":"B4","g":"n","x":-0.719,"y":86.2},
{"p":"B4","g":"m","x":-0.217,"y":116.4},{"p":"B4","g":"m","x":-0.145,"y":110.1},{"p":"B4","g":"m","x":-0.082,"y":101.3},{"p":"B4","g":"m","x":0.068,"y":98.8},{"p":"B4","g":"m","x":0.193,"y":103.2},{"p":"B4","g":"m","x":0.352,"y":99.9},{"p":"B4","g":"m","x":-0.347,"y":93.7},{"p":"B4","g":"m","x":-0.333,"y":93.9},{"p":"B4","g":"m","x":-0.362,"y":88.2},{"p":"B4","g":"m","x":-0.111,"y":90.0},{"p":"B4","g":"m","x":-0.068,"y":82.0},{"p":"B4","g":"m","x":0.077,"y":83.9},{"p":"B4","g":"m","x":0.212,"y":80.5},
{"p":"B4","g":"p","x":1.207,"y":137.3},{"p":"B4","g":"p","x":0.681,"y":129.3},{"p":"B4","g":"p","x":0.685,"y":120.9},{"p":"B4","g":"p","x":0.806,"y":118.2},{"p":"B4","g":"p","x":1.062,"y":111.5},{"p":"B4","g":"p","x":1.375,"y":111.7},{"p":"B4","g":"p","x":1.496,"y":109.5},{"p":"B4","g":"p","x":0.671,"y":105.3},{"p":"B4","g":"p","x":0.598,"y":104.2},{"p":"B4","g":"p","x":0.980,"y":106.4},{"p":"B4","g":"p","x":0.512,"y":87.5},{"p":"B4","g":"p","x":0.912,"y":83.7},{"p":"B4","g":"p","x":2.124,"y":96.4},
{"p":"B5","g":"n","x":-0.975,"y":95.0},{"p":"B5","g":"n","x":-0.518,"y":137.3},{"p":"B5","g":"n","x":-0.422,"y":129.2},{"p":"B5","g":"n","x":-0.068,"y":131.0},{"p":"B5","g":"n","x":-0.058,"y":118.8},{"p":"B5","g":"n","x":-0.049,"y":116.2},{"p":"B5","g":"n","x":-0.516,"y":111.5},{"p":"B5","g":"n","x":-0.453,"y":111.7},{"p":"B5","g":"n","x":-0.368,"y":110.1},{"p":"B5","g":"n","x":-0.589,"y":105.3},{"p":"B5","g":"n","x":-0.397,"y":104.8},{"p":"B5","g":"n","x":-0.355,"y":104.0},{"p":"B5","g":"n","x":-0.078,"y":101.3},{"p":"B5","g":"n","x":-0.014,"y":100.0},{"p":"B5","g":"n","x":-0.451,"y":96.4},{"p":"B5","g":"n","x":-0.323,"y":94.0},{"p":"B5","g":"n","x":-0.698,"y":92.9},{"p":"B5","g":"n","x":-0.683,"y":90.7},{"p":"B5","g":"n","x":-0.269,"y":87.5},{"p":"B5","g":"n","x":-0.384,"y":86.2},{"p":"B5","g":"n","x":-0.370,"y":83.9},{"p":"B5","g":"n","x":-0.311,"y":81.9},
{"p":"B5","g":"p","x":0.122,"y":116.8},{"p":"B5","g":"p","x":0.346,"y":120.9},{"p":"B5","g":"p","x":0.502,"y":118.2},{"p":"B5","g":"p","x":0.158,"y":106.2},{"p":"B5","g":"p","x":0.271,"y":103.3},{"p":"B5","g":"p","x":0.319,"y":106.2},{"p":"B5","g":"p","x":0.380,"y":107.0},{"p":"B5","g":"p","x":0.430,"y":109.5},{"p":"B5","g":"p","x":0.560,"y":104.4},{"p":"B5","g":"p","x":0.424,"y":98.8},{"p":"B5","g":"p","x":0.069,"y":95.0},{"p":"B5","g":"p","x":0.069,"y":93.7},{"p":"B5","g":"p","x":0.024,"y":88.2},{"p":"B5","g":"p","x":0.124,"y":86.2},{"p":"B5","g":"p","x":0.233,"y":84.4},{"p":"B5","g":"p","x":0.371,"y":90.0},{"p":"B5","g":"p","x":0.378,"y":83.7},{"p":"B5","g":"p","x":0.175,"y":78.8},{"p":"B5","g":"p","x":0.587,"y":80.5},
{"p":"B6","g":"n","x":-1.212,"y":107.0},{"p":"B6","g":"n","x":-0.848,"y":106.2},{"p":"B6","g":"n","x":-0.570,"y":131.1},{"p":"B6","g":"n","x":-0.622,"y":118.8},{"p":"B6","g":"n","x":-0.301,"y":104.1},{"p":"B6","g":"n","x":-0.165,"y":104.8},{"p":"B6","g":"n","x":-0.038,"y":105.3},{"p":"B6","g":"n","x":-0.313,"y":96.4},{"p":"B6","g":"n","x":-0.351,"y":95.0},{"p":"B6","g":"n","x":-0.072,"y":90.7},{"p":"B6","g":"n","x":-0.107,"y":86.2},{"p":"B6","g":"n","x":-0.661,"y":86.2},{"p":"B6","g":"n","x":-0.798,"y":84.4},{"p":"B6","g":"n","x":-0.467,"y":78.9},
{"p":"B6","g":"p","x":0.597,"y":137.3},{"p":"B6","g":"p","x":0.626,"y":129.3},{"p":"B6","g":"p","x":0.845,"y":121.0},{"p":"B6","g":"p","x":0.219,"y":118.4},{"p":"B6","g":"p","x":0.231,"y":116.8},{"p":"B6","g":"p","x":0.255,"y":116.4},{"p":"B6","g":"p","x":0.267,"y":110.1},{"p":"B6","g":"p","x":0.351,"y":109.5},{"p":"B6","g":"p","x":0.456,"y":111.5},{"p":"B6","g":"p","x":0.617,"y":111.7},{"p":"B6","g":"p","x":0.468,"y":106.4},{"p":"B6","g":"p","x":0.458,"y":104.2},{"p":"B6","g":"p","x":0.756,"y":103.3},{"p":"B6","g":"p","x":0.231,"y":101.3},{"p":"B6","g":"p","x":0.406,"y":100.0},{"p":"B6","g":"p","x":0.386,"y":98.8},{"p":"B6","g":"p","x":0.099,"y":94.8},{"p":"B6","g":"p","x":0.226,"y":94.0},{"p":"B6","g":"p","x":0.327,"y":93.5},{"p":"B6","g":"p","x":0.681,"y":92.9},{"p":"B6","g":"p","x":0.041,"y":90.0},{"p":"B6","g":"p","x":0.125,"y":87.5},{"p":"B6","g":"p","x":0.144,"y":88.2},{"p":"B6","g":"p","x":0.070,"y":82.0},{"p":"B6","g":"p","x":0.152,"y":80.5},{"p":"B6","g":"p","x":0.446,"y":84.0},{"p":"B6","g":"p","x":0.712,"y":83.7}
],
"fits":[
{"p":"A1","g":"n","seg":"A1n1","part":"ext","x":-1.96,"y":117.3},{"p":"A1","g":"n","seg":"A1n1","part":"ext","x":-1.78,"y":115.6},{"p":"A1","g":"n","seg":"A1n2","part":"fit","x":-1.78,"y":115.6},{"p":"A1","g":"n","seg":"A1n2","part":"fit","x":-0.41,"y":102.3},
{"p":"A1","g":"m","seg":"A1m","part":"fit","x":-0.37,"y":98.1},{"p":"A1","g":"m","seg":"A1m","part":"fit","x":0.41,"y":101.0},
{"p":"A1","g":"p","seg":"A1p1","part":"fit","x":0.42,"y":99.3},{"p":"A1","g":"p","seg":"A1p1","part":"fit","x":1.49,"y":94.8},{"p":"A1","g":"p","seg":"A1p2","part":"ext","x":1.49,"y":94.8},{"p":"A1","g":"p","seg":"A1p2","part":"ext","x":2.29,"y":91.5},
{"p":"A2","g":"n","seg":"A2n","part":"fit","x":-0.973,"y":106.1},{"p":"A2","g":"n","seg":"A2n","part":"fit","x":0.003,"y":97.5},
{"p":"A2","g":"p","seg":"A2p1","part":"fit","x":0.022,"y":108.0},{"p":"A2","g":"p","seg":"A2p1","part":"fit","x":0.65,"y":95.2},{"p":"A2","g":"p","seg":"A2p2","part":"ext","x":0.65,"y":95.2},{"p":"A2","g":"p","seg":"A2p2","part":"ext","x":0.893,"y":90.2},
{"p":"A3","g":"n","seg":"A3n1","part":"ext","x":-1.296,"y":111.9},{"p":"A3","g":"n","seg":"A3n1","part":"ext","x":-1.15,"y":111.0},{"p":"A3","g":"n","seg":"A3n2","part":"fit","x":-1.15,"y":111.0},{"p":"A3","g":"n","seg":"A3n2","part":"fit","x":-0.021,"y":104.3},
{"p":"A3","g":"p","seg":"A3p1","part":"fit","x":0.008,"y":102.9},{"p":"A3","g":"p","seg":"A3p1","part":"fit","x":0.789,"y":93.85},{"p":"A3","g":"p","seg":"A3p2","part":"ext","x":0.789,"y":93.85},{"p":"A3","g":"p","seg":"A3p2","part":"ext","x":1.0,"y":91.4},
{"p":"A4","g":"n","seg":"A4n1","part":"ext","x":-1.969,"y":119.0},{"p":"A4","g":"n","seg":"A4n1","part":"ext","x":-1.83,"y":116.95},{"p":"A4","g":"n","seg":"A4n2","part":"fit","x":-1.83,"y":116.95},{"p":"A4","g":"n","seg":"A4n2","part":"fit","x":-0.401,"y":95.9},
{"p":"A4","g":"m","seg":"A4m","part":"fit","x":-0.270,"y":91.5},{"p":"A4","g":"m","seg":"A4m","part":"fit","x":0.391,"y":76.6},
{"p":"A4","g":"p","seg":"A4p","part":"fit","x":0.478,"y":101.8},{"p":"A4","g":"p","seg":"A4p","part":"fit","x":2.317,"y":89.4},
{"p":"A5","g":"n","seg":"A5n1","part":"ext","x":-0.967,"y":93.5},{"p":"A5","g":"n","seg":"A5n1","part":"ext","x":-0.776,"y":92.6},{"p":"A5","g":"n","seg":"A5n2","part":"fit","x":-0.776,"y":92.6},{"p":"A5","g":"n","seg":"A5n2","part":"fit","x":-0.039,"y":89.2},
{"p":"A5","g":"p","seg":"A5p","part":"fit","x":0.003,"y":106.3},{"p":"A5","g":"p","seg":"A5p","part":"fit","x":0.904,"y":97.0},
{"p":"A6","g":"n","seg":"A6n1","part":"ext","x":-1.289,"y":110.8},{"p":"A6","g":"n","seg":"A6n1","part":"ext","x":-1.2,"y":110.15},{"p":"A6","g":"n","seg":"A6n2","part":"fit","x":-1.2,"y":110.15},{"p":"A6","g":"n","seg":"A6n2","part":"fit","x":-0.021,"y":101.5},
{"p":"A6","g":"p","seg":"A6p1","part":"fit","x":0.041,"y":89.6},{"p":"A6","g":"p","seg":"A6p1","part":"fit","x":0.789,"y":92.7},{"p":"A6","g":"p","seg":"A6p2","part":"ext","x":0.789,"y":92.7},{"p":"A6","g":"p","seg":"A6p2","part":"ext","x":1.0,"y":93.6},
{"p":"B1","g":"n","seg":"B1n","part":"fit","x":-1.848,"y":91.2},{"p":"B1","g":"n","seg":"B1n","part":"fit","x":-0.391,"y":88.6},
{"p":"B1","g":"m","seg":"B1m","part":"fit","x":-0.357,"y":92.5},{"p":"B1","g":"m","seg":"B1m","part":"fit","x":0.362,"y":96.8},
{"p":"B1","g":"p","seg":"B1p","part":"fit","x":0.487,"y":93.9},{"p":"B1","g":"p","seg":"B1p","part":"fit","x":2.177,"y":113.5},
{"p":"B2","g":"n","seg":"B2n","part":"fit","x":-0.971,"y":87.1},{"p":"B2","g":"n","seg":"B2n","part":"fit","x":-0.005,"y":97.8},
{"p":"B2","g":"p","seg":"B2p","part":"fit","x":0.032,"y":89.4},{"p":"B2","g":"p","seg":"B2p","part":"fit","x":0.768,"y":106.6},
{"p":"B3","g":"n","seg":"B3n1","part":"ext","x":-1.194,"y":99.3},{"p":"B3","g":"n","seg":"B3n1","part":"ext","x":-0.72,"y":96.0},{"p":"B3","g":"n","seg":"B3n2","part":"fit","x":-0.72,"y":96.0},{"p":"B3","g":"n","seg":"B3n2","part":"fit","x":-0.026,"y":91.2},
{"p":"B3","g":"p","seg":"B3p","part":"fit","x":0.008,"y":90.2},{"p":"B3","g":"p","seg":"B3p","part":"fit","x":0.825,"y":101.3},
{"p":"B4","g":"n","seg":"B4n1","part":"ext","x":-1.853,"y":88.4},{"p":"B4","g":"n","seg":"B4n1","part":"ext","x":-1.549,"y":92.0},{"p":"B4","g":"n","seg":"B4n2","part":"fit","x":-1.549,"y":92.0},{"p":"B4","g":"n","seg":"B4n2","part":"fit","x":-0.430,"y":105.3},
{"p":"B4","g":"m","seg":"B4m","part":"fit","x":-0.367,"y":96.6},{"p":"B4","g":"m","seg":"B4m","part":"fit","x":0.362,"y":94.0},
{"p":"B4","g":"p","seg":"B4p","part":"fit","x":0.512,"y":109.7},{"p":"B4","g":"p","seg":"B4p","part":"fit","x":2.167,"y":109.2},
{"p":"B5","g":"n","seg":"B5n1","part":"ext","x":-0.977,"y":95.7},{"p":"B5","g":"n","seg":"B5n1","part":"ext","x":-0.719,"y":99.3},{"p":"B5","g":"n","seg":"B5n2","part":"fit","x":-0.719,"y":99.3},{"p":"B5","g":"n","seg":"B5n2","part":"fit","x":-0.032,"y":109.0},
{"p":"B5","g":"p","seg":"B5p","part":"fit","x":0.028,"y":91.6},{"p":"B5","g":"p","seg":"B5p","part":"fit","x":0.765,"y":108.4},
{"p":"B6","g":"n","seg":"B6n","part":"fit","x":-1.212,"y":98.1},{"p":"B6","g":"n","seg":"B6n","part":"fit","x":-0.045,"y":99.3},
{"p":"B6","g":"p","seg":"B6p","part":"fit","x":0.046,"y":93.5},{"p":"B6","g":"p","seg":"B6p","part":"fit","x":0.845,"y":114.8}
],
"thr":[{"p":"A1","x":-0.38},{"p":"A1","x":0.40},{"p":"A2","x":0},{"p":"A3","x":0},{"p":"A4","x":-0.386},{"p":"A4","x":0.386},{"p":"A5","x":0},{"p":"A6","x":0},{"p":"B1","x":-0.39},{"p":"B1","x":0.425},{"p":"B2","x":0},{"p":"B3","x":0},{"p":"B4","x":-0.40},{"p":"B4","x":0.415},{"p":"B5","x":0},{"p":"B6","x":0}],
"ev":[{"p":"A1","x":-1.67,"y":113.0},{"p":"A1","x":0.97,"y":98.3},{"p":"A2","x":0.282,"y":113.3},{"p":"A2","x":0.426,"y":97.6},{"p":"A3","x":-0.895,"y":113.3},{"p":"A3","x":0.475,"y":97.8},{"p":"A4","x":-1.684,"y":112.3},{"p":"A4","x":0.960,"y":89.6},{"p":"A5","x":0.273,"y":112.5},{"p":"A5","x":0.424,"y":89.7},{"p":"A6","x":-0.901,"y":112.4},{"p":"A6","x":0.470,"y":89.7},{"p":"B1","x":-1.863,"y":84.8},{"p":"B1","x":2.167,"y":122.1},{"p":"B2","x":0.158,"y":84.9},{"p":"B2","x":0.770,"y":122.1},{"p":"B3","x":-1.085,"y":84.9},{"p":"B3","x":-0.613,"y":122.4},{"p":"B4","x":-1.868,"y":74.4},{"p":"B4","x":2.177,"y":111.1},{"p":"B5","x":0.158,"y":74.4},{"p":"B5","x":0.766,"y":111.1},{"p":"B6","x":-1.085,"y":74.4},{"p":"B6","x":-0.620,"y":111.1}],
"lab":[{"p":"A1","x":-1.91,"y":119.6,"t":"1999/2000"},{"p":"A1","x":1.18,"y":97.0,"t":"2002/2003"},{"p":"A2","x":0.330,"y":108.4,"t":"1999/2000"},{"p":"A2","x":0.099,"y":93.4,"t":"2002/2003"},{"p":"A3","x":-1.116,"y":118.9,"t":"1999/2000"},{"p":"A3","x":0.442,"y":103.0,"t":"2002/2003"},{"p":"A4","x":-1.766,"y":117.4,"t":"1999/2000"},{"p":"A4","x":0.912,"y":82.6,"t":"2002/2003"},{"p":"A5","x":0.311,"y":108.9,"t":"1999/2000"},{"p":"A5","x":0.478,"y":85.1,"t":"2002/2003"},{"p":"A6","x":-1.013,"y":116.1,"t":"1999/2000"},{"p":"A6","x":0.398,"y":83.3,"t":"2002/2003"},{"p":"B1","x":-1.896,"y":79.5,"t":"1988/1989"},{"p":"B1","x":1.771,"y":116.2,"t":"1997/1998"},{"p":"B2","x":0.137,"y":79.8,"t":"1988/19899"},{"p":"B2","x":0.583,"y":116.9,"t":"1997/1998"},{"p":"B3","x":-0.793,"y":126.4,"t":"1997/1998"},{"p":"B3","x":-1.301,"y":77.8,"t":"1988/1989"},{"p":"B4","x":1.771,"y":115.0,"t":"1997/1998"},{"p":"B4","x":-1.728,"y":72.6,"t":"1988/1989"},{"p":"B5","x":0.551,"y":114.4,"t":"1997/1998"},{"p":"B5","x":0.219,"y":72.4,"t":"1988/1989"},{"p":"B6","x":-1.181,"y":112.9,"t":"1997/1998"},{"p":"B6","x":-1.008,"y":73.1,"t":"1988/1989"}],
"rl":[{"p":"A1","g":"n","x":-1.85,"y":133.8,"t":"R=−0.46"},{"p":"A2","g":"p","x":0.946,"y":127.5,"t":"R=−0.49"},{"p":"A3","g":"p","x":0.988,"y":128.3,"t":"R=−0.28"},{"p":"A4","g":"n","x":-1.945,"y":135.5,"t":"R=−0.40"},{"p":"B1","g":"p","x":2.925,"y":134.5,"t":"R=0.62"},{"p":"B2","g":"n","x":-0.948,"y":134.5,"t":"R=0.30"},{"p":"B2","g":"p","x":0.960,"y":134.5,"t":"R=0.53"},{"p":"B3","g":"p","x":0.909,"y":134.5,"t":"R=0.34"},{"p":"B6","g":"p","x":0.981,"y":133.8,"t":"R=0.40"}]
},
"vconcat":[
{"title":{"text":"Southern Africa","fontSize":41,"fontWeight":"normal","anchor":"middle","offset":-27,"dx":16},
 "vconcat":[
 {"title":{"text":"a","fontSize":34,"fontWeight":"normal","anchor":"start","offset":10.6,"dx":7},
  "columns":3,"bounds":"flush","spacing":{"row":93,"column":111},
  "concat":[
  {"width":347,"height":262,"title":{"text":"ENSO","fontSize":24,"fontWeight":"bold","offset":4.5,"dx":-8},
   "layer":[
    {"data":{"name":"pts"},"transform":[{"filter":"datum.p=='A1'"}],"mark":{"type":"point","shape":"circle","filled":false,"size":50,"strokeWidth":1,"opacity":1},"encoding":{"x":{"field":"x","type":"quantitative","scale":{"domain":[-2,3],"nice":false,"zero":false},"axis":{"values":[-2,-1,0,1,2,3],"format":"~g","title":"SSTA [°C]"}},"y":{"field":"y","type":"quantitative","scale":{"domain":[60,140],"nice":false,"zero":false},"axis":{"values":[60,80,100,120,140],"format":"d","title":"Mean precipitation [%]"}},"color":{"field":"g","type":"nominal","scale":{"domain":["n","m","p"],"range":["#0000ff","#000000","#ff0000"]},"legend":null}}},
    {"data":{"name":"thr"},"transform":[{"filter":"datum.p=='A1'"}],"mark":{"type":"rule","color":"#333333","strokeDash":[7,5],"strokeWidth":1},"encoding":{"x":{"field":"x","type":"quantitative","axis":null}}},
    {"data":{"name":"fits"},"transform":[{"filter":"datum.p=='A1'"}],"mark":{"type":"line","strokeWidth":1.5},"encoding":{"x":{"field":"x","type":"quantitative","axis":null},"y":{"field":"y","type":"quantitative","axis":null},"color":{"field":"g","type":"nominal","legend":null},"detail":{"field":"seg","type":"nominal"},"strokeDash":{"field":"part","type":"nominal","scale":{"domain":["fit","ext"],"range":[[1,0],[8,5]]},"legend":null}}},
    {"data":{"name":"ev"},"transform":[{"filter":"datum.p=='A1'"}],"mark":{"type":"circle","color":"#000000","size":75,"opacity":1},"encoding":{"x":{"field":"x","type":"quantitative","axis":{"orient":"top","labels":false,"title":null,"values":[-2,-1,0,1,2,3]}},"y":{"field":"y","type":"quantitative","axis":{"orient":"right","labels":false,"title":null,"values":[60,80,100,120,140]}}}},
    {"data":{"name":"lab"},"transform":[{"filter":"datum.p=='A1'"}],"mark":{"type":"text","align":"left","baseline":"middle","fontSize":14.5,"fontWeight":"bold","color":"#000000"},"encoding":{"x":{"field":"x","type":"quantitative","axis":null},"y":{"field":"y","type":"quantitative","axis":null},"text":{"field":"t","type":"nominal"}}},
    {"data":{"name":"rl"},"transform":[{"filter":"datum.p=='A1' && datum.g=='n'"}],"mark":{"type":"text","align":"left","baseline":"middle","fontSize":20,"fontWeight":"bold","color":"#0000ff"},"encoding":{"x":{"field":"x","type":"quantitative","axis":null},"y":{"field":"y","type":"quantitative","axis":null},"text":{"field":"t","type":"nominal"}}},
    {"data":{"name":"rl"},"transform":[{"filter":"datum.p=='A1' && datum.g=='p'"}],"mark":{"type":"text","align":"right","baseline":"middle","fontSize":20,"fontWeight":"bold","color":"#ff0000"},"encoding":{"x":{"field":"x","type":"quantitative","axis":null},"y":{"field":"y","type":"quantitative","axis":null},"text":{"field":"t","type":"nominal"}}}
   ],"resolve":{"axis":{"x":"independent","y":"independent"}}},
  {"width":347,"height":262,"title":{"text":"Atlantic Niño","fontSize":24,"fontWeight":"bold","offset":4.5,"dx":4},
   "layer":[
    {"data":{"name":"pts"},"transform":[{"filter":"datum.p=='A2'"}],"mark":{"type":"point","shape":"circle","filled":false,"size":50,"strokeWidth":1,"opacity":1},"encoding":{"x":{"field":"x","type":"quantitative","scale":{"domain":[-1,1],"nice":false,"zero":false},"axis":{"values":[-1,-0.5,0,0.5,1],"format":"~g","title":"SSTA [°C]"}},"y":{"field":"y","type":"quantitative","scale":{"domain":[60,140],"nice":false,"zero":false},"axis":{"values":[60,80,100,120,140],"format":"d","title":null}},"color":{"field":"g","type":"nominal","scale":{"domain":["n","m","p"],"range":["#0000ff","#000000","#ff0000"]},"legend":null}}},
    {"data":{"name":"thr"},"transform":[{"filter":"datum.p=='A2'"}],"mark":{"type":"rule","color":"#333333","strokeDash":[7,5],"strokeWidth":1},"encoding":{"x":{"field":"x","type":"quantitative","axis":null}}},
    {"data":{"name":"fits"},"transform":[{"filter":"datum.p=='A2'"}],"mark":{"type":"line","strokeWidth":1.5},"encoding":{"x":{"field":"x","type":"quantitative","axis":null},"y":{"field":"y","type":"quantitative","axis":null},"color":{"field":"g","type":"nominal","legend":null},"detail":{"field":"seg","type":"nominal"},"strokeDash":{"field":"part","type":"nominal","scale":{"domain":["fit","ext"],"range":[[1,0],[8,5]]},"legend":null}}},
    {"data":{"name":"ev"},"transform":[{"filter":"datum.p=='A2'"}],"mark":{"type":"circle","color":"#000000","size":75,"opacity":1},"encoding":{"x":{"field":"x","type":"quantitative","axis":{"orient":"top","labels":false,"title":null,"values":[-1,-0.5,0,0.5,1]}},"y":{"field":"y","type":"quantitative","axis":{"orient":"right","labels":false,"title":null,"values":[60,80,100,120,140]}}}},
    {"data":{"name":"lab"},"transform":[{"filter":"datum.p=='A2'"}],"mark":{"type":"text","align":"left","baseline":"middle","fontSize":14.5,"fontWeight":"bold","color":"#000000"},"encoding":{"x":{"field":"x","type":"quantitative","axis":null},"y":{"field":"y","type":"quantitative","axis":null},"text":{"field":"t","type":"nominal"}}},
    {"data":{"name":"rl"},"transform":[{"filter":"datum.p=='A2' && datum.g=='n'"}],"mark":{"type":"text","align":"left","baseline":"middle","fontSize":20,"fontWeight":"bold","color":"#0000ff"},"encoding":{"x":{"field":"x","type":"quantitative","axis":null},"y":{"field":"y","type":"quantitative","axis":null},"text":{"field":"t","type":"nominal"}}},
    {"data":{"name":"rl"},"transform":[{"filter":"datum.p=='A2' && datum.g=='p'"}],"mark":{"type":"text","align":"right","baseline":"middle","fontSize":20,"fontWeight":"bold","color":"#ff0000"},"encoding":{"x":{"field":"x","type":"quantitative","axis":null},"y":{"field":"y","type":"quantitative","axis":null},"text":{"field":"t","type":"nominal"}}}
   ],"resolve":{"axis":{"x":"independent","y":"independent"}}},
  {"width":347,"height":262,"title":{"text":"El Niño Modoki","fontSize":24,"fontWeight":"bold","offset":1.5},
   "layer":[
    {"data":{"name":"pts"},"transform":[{"filter":"datum.p=='A3'"}],"mark":{"type":"point","shape":"circle","filled":false,"size":50,"strokeWidth":1,"opacity":1},"encoding":{"x":{"field":"x","type":"quantitative","scale":{"domain":[-1.5,1],"nice":false,"zero":false},"axis":{"values":[-1.5,-1,-0.5,0,0.5,1],"format":"~g","title":"SSTA [°C]"}},"y":{"field":"y","type":"quantitative","scale":{"domain":[60,140],"nice":false,"zero":false},"axis":{"values":[60,80,100,120,140],"format":"d","title":null}},"color":{"field":"g","type":"nominal","scale":{"domain":["n","m","p"],"range":["#0000ff","#000000","#ff0000"]},"legend":null}}},
    {"data":{"name":"thr"},"transform":[{"filter":"datum.p=='A3'"}],"mark":{"type":"rule","color":"#333333","strokeDash":[7,5],"strokeWidth":1},"encoding":{"x":{"field":"x","type":"quantitative","axis":null}}},
    {"data":{"name":"fits"},"transform":[{"filter":"datum.p=='A3'"}],"mark":{"type":"line","strokeWidth":1.5},"encoding":{"x":{"field":"x","type":"quantitative","axis":null},"y":{"field":"y","type":"quantitative","axis":null},"color":{"field":"g","type":"nominal","legend":null},"detail":{"field":"seg","type":"nominal"},"strokeDash":{"field":"part","type":"nominal","scale":{"domain":["fit","ext"],"range":[[1,0],[8,5]]},"legend":null}}},
    {"data":{"name":"ev"},"transform":[{"filter":"datum.p=='A3'"}],"mark":{"type":"circle","color":"#000000","size":75,"opacity":1},"encoding":{"x":{"field":"x","type":"quantitative","axis":{"orient":"top","labels":false,"title":null,"values":[-1.5,-1,-0.5,0,0.5,1]}},"y":{"field":"y","type":"quantitative","axis":{"orient":"right","labels":false,"title":null,"values":[60,80,100,120,140]}}}},
    {"data":{"name":"lab"},"transform":[{"filter":"datum.p=='A3'"}],"mark":{"type":"text","align":"left","baseline":"middle","fontSize":14.5,"fontWeight":"bold","color":"#000000"},"encoding":{"x":{"field":"x","type":"quantitative","axis":null},"y":{"field":"y","type":"quantitative","axis":null},"text":{"field":"t","type":"nominal"}}},
    {"data":{"name":"rl"},"transform":[{"filter":"datum.p=='A3' && datum.g=='n'"}],"mark":{"type":"text","align":"left","baseline":"middle","fontSize":20,"fontWeight":"bold","color":"#0000ff"},"encoding":{"x":{"field":"x","type":"quantitative","axis":null},"y":{"field":"y","type":"quantitative","axis":null},"text":{"field":"t","type":"nominal"}}},
    {"data":{"name":"rl"},"transform":[{"filter":"datum.p=='A3' && datum.g=='p'"}],"mark":{"type":"text","align":"right","baseline":"middle","fontSize":20,"fontWeight":"bold","color":"#ff0000"},"encoding":{"x":{"field":"x","type":"quantitative","axis":null},"y":{"field":"y","type":"quantitative","axis":null},"text":{"field":"t","type":"nominal"}}}
   ],"resolve":{"axis":{"x":"independent","y":"independent"}}},
  {"width":347,"height":262,
   "layer":[
    {"data":{"name":"pts"},"transform":[{"filter":"datum.p=='A4'"}],"mark":{"type":"point","shape":"circle","filled":false,"size":50,"strokeWidth":1,"opacity":1},"encoding":{"x":{"field":"x","type":"quantitative","scale":{"domain":[-2,3],"nice":false,"zero":false},"axis":{"values":[-2,-1,0,1,2,3],"format":"~g","title":"SSTA [°C]"}},"y":{"field":"y","type":"quantitative","scale":{"domain":[40,140],"nice":false,"zero":false},"axis":{"values":[40,60,80,100,120,140],"format":"d","title":"Rx5day [%]"}},"color":{"field":"g","type":"nominal","scale":{"domain":["n","m","p"],"range":["#0000ff","#000000","#ff0000"]},"legend":null}}},
    {"data":{"name":"thr"},"transform":[{"filter":"datum.p=='A4'"}],"mark":{"type":"rule","color":"#333333","strokeDash":[7,5],"strokeWidth":1},"encoding":{"x":{"field":"x","type":"quantitative","axis":null}}},
    {"data":{"name":"fits"},"transform":[{"filter":"datum.p=='A4'"}],"mark":{"type":"line","strokeWidth":1.5},"encoding":{"x":{"field":"x","type":"quantitative","axis":null},"y":{"field":"y","type":"quantitative","axis":null},"color":{"field":"g","type":"nominal","legend":null},"detail":{"field":"seg","type":"nominal"},"strokeDash":{"field":"part","type":"nominal","scale":{"domain":["fit","ext"],"range":[[1,0],[8,5]]},"legend":null}}},
    {"data":{"name":"ev"},"transform":[{"filter":"datum.p=='A4'"}],"mark":{"type":"circle","color":"#000000","size":75,"opacity":1},"encoding":{"x":{"field":"x","type":"quantitative","axis":{"orient":"top","labels":false,"title":null,"values":[-2,-1,0,1,2,3]}},"y":{"field":"y","type":"quantitative","axis":{"orient":"right","labels":false,"title":null,"values":[40,60,80,100,120,140]}}}},
    {"data":{"name":"lab"},"transform":[{"filter":"datum.p=='A4'"}],"mark":{"type":"text","align":"left","baseline":"middle","fontSize":14.5,"fontWeight":"bold","color":"#000000"},"encoding":{"x":{"field":"x","type":"quantitative","axis":null},"y":{"field":"y","type":"quantitative","axis":null},"text":{"field":"t","type":"nominal"}}},
    {"data":{"name":"rl"},"transform":[{"filter":"datum.p=='A4' && datum.g=='n'"}],"mark":{"type":"text","align":"left","baseline":"middle","fontSize":20,"fontWeight":"bold","color":"#0000ff"},"encoding":{"x":{"field":"x","type":"quantitative","axis":null},"y":{"field":"y","type":"quantitative","axis":null},"text":{"field":"t","type":"nominal"}}}
   ],"resolve":{"axis":{"x":"independent","y":"independent"}}},
  {"width":347,"height":262,
   "layer":[
    {"data":{"name":"pts"},"transform":[{"filter":"datum.p=='A5'"}],"mark":{"type":"point","shape":"circle","filled":false,"size":50,"strokeWidth":1,"opacity":1},"encoding":{"x":{"field":"x","type":"quantitative","scale":{"domain":[-1,1],"nice":false,"zero":false},"axis":{"values":[-1,-0.5,0,0.5,1],"format":"~g","title":"SSTA [°C]"}},"y":{"field":"y","type":"quantitative","scale":{"domain":[40,140],"nice":false,"zero":false},"axis":{"values":[40,60,80,100,120,140],"format":"d","title":null}},"color":{"field":"g","type":"nominal","scale":{"domain":["n","m","p"],"range":["#0000ff","#000000","#ff0000"]},"legend":null}}},
    {"data":{"name":"thr"},"transform":[{"filter":"datum.p=='A5'"}],"mark":{"type":"rule","color":"#333333","strokeDash":[7,5],"strokeWidth":1},"encoding":{"x":{"field":"x","type":"quantitative","axis":null}}},
    {"data":{"name":"fits"},"transform":[{"filter":"datum.p=='A5'"}],"mark":{"type":"line","strokeWidth":1.5},"encoding":{"x":{"field":"x","type":"quantitative","axis":null},"y":{"field":"y","type":"quantitative","axis":null},"color":{"field":"g","type":"nominal","legend":null},"detail":{"field":"seg","type":"nominal"},"strokeDash":{"field":"part","type":"nominal","scale":{"domain":["fit","ext"],"range":[[1,0],[8,5]]},"legend":null}}},
    {"data":{"name":"ev"},"transform":[{"filter":"datum.p=='A5'"}],"mark":{"type":"circle","color":"#000000","size":75,"opacity":1},"encoding":{"x":{"field":"x","type":"quantitative","axis":{"orient":"top","labels":false,"title":null,"values":[-1,-0.5,0,0.5,1]}},"y":{"field":"y","type":"quantitative","axis":{"orient":"right","labels":false,"title":null,"values":[40,60,80,100,120,140]}}}},
    {"data":{"name":"lab"},"transform":[{"filter":"datum.p=='A5'"}],"mark":{"type":"text","align":"left","baseline":"middle","fontSize":14.5,"fontWeight":"bold","color":"#000000"},"encoding":{"x":{"field":"x","type":"quantitative","axis":null},"y":{"field":"y","type":"quantitative","axis":null},"text":{"field":"t","type":"nominal"}}}
   ],"resolve":{"axis":{"x":"independent","y":"independent"}}},
  {"width":347,"height":262,
   "layer":[
    {"data":{"name":"pts"},"transform":[{"filter":"datum.p=='A6'"}],"mark":{"type":"point","shape":"circle","filled":false,"size":50,"strokeWidth":1,"opacity":1},"encoding":{"x":{"field":"x","type":"quantitative","scale":{"domain":[-1.5,1],"nice":false,"zero":false},"axis":{"values":[-1.5,-1,-0.5,0,0.5,1],"format":"~g","title":"SSTA [°C]"}},"y":{"field":"y","type":"quantitative","scale":{"domain":[40,140],"nice":false,"zero":false},"axis":{"values":[40,60,80,100,120,140],"format":"d","title":null}},"color":{"field":"g","type":"nominal","scale":{"domain":["n","m","p"],"range":["#0000ff","#000000","#ff0000"]},"legend":null}}},
    {"data":{"name":"thr"},"transform":[{"filter":"datum.p=='A6'"}],"mark":{"type":"rule","color":"#333333","strokeDash":[7,5],"strokeWidth":1},"encoding":{"x":{"field":"x","type":"quantitative","axis":null}}},
    {"data":{"name":"fits"},"transform":[{"filter":"datum.p=='A6'"}],"mark":{"type":"line","strokeWidth":1.5},"encoding":{"x":{"field":"x","type":"quantitative","axis":null},"y":{"field":"y","type":"quantitative","axis":null},"color":{"field":"g","type":"nominal","legend":null},"detail":{"field":"seg","type":"nominal"},"strokeDash":{"field":"part","type":"nominal","scale":{"domain":["fit","ext"],"range":[[1,0],[8,5]]},"legend":null}}},
    {"data":{"name":"ev"},"transform":[{"filter":"datum.p=='A6'"}],"mark":{"type":"circle","color":"#000000","size":75,"opacity":1},"encoding":{"x":{"field":"x","type":"quantitative","axis":{"orient":"top","labels":false,"title":null,"values":[-1.5,-1,-0.5,0,0.5,1]}},"y":{"field":"y","type":"quantitative","axis":{"orient":"right","labels":false,"title":null,"values":[40,60,80,100,120,140]}}}},
    {"data":{"name":"lab"},"transform":[{"filter":"datum.p=='A6'"}],"mark":{"type":"text","align":"left","baseline":"middle","fontSize":14.5,"fontWeight":"bold","color":"#000000"},"encoding":{"x":{"field":"x","type":"quantitative","axis":null},"y":{"field":"y","type":"quantitative","axis":null},"text":{"field":"t","type":"nominal"}}}
   ],"resolve":{"axis":{"x":"independent","y":"independent"}}}
  ]}
 ]},
{"title":{"text":"Southern South America","fontSize":41,"fontWeight":"normal","anchor":"middle","offset":-41,"dx":28},
 "vconcat":[
 {"title":{"text":"b","fontSize":34,"fontWeight":"normal","anchor":"start","offset":21.7,"dx":7},
  "columns":3,"bounds":"flush","spacing":{"row":104,"column":111},
  "concat":[
  {"width":347,"height":263,"title":{"text":"ENSO","fontSize":24,"fontWeight":"bold","offset":0.5,"dx":-12},
   "layer":[
    {"data":{"name":"pts"},"transform":[{"filter":"datum.p=='B1'"}],"mark":{"type":"point","shape":"circle","filled":false,"size":50,"strokeWidth":1,"opacity":1},"encoding":{"x":{"field":"x","type":"quantitative","scale":{"domain":[-2,3],"nice":false,"zero":false},"axis":{"values":[-2,-1,0,1,2,3],"format":"~g","title":"SSTA[°C]"}},"y":{"field":"y","type":"quantitative","scale":{"domain":[60,140],"nice":false,"zero":false},"axis":{"values":[60,80,100,120,140],"format":"d","title":"Mean precipitation [%]"}},"color":{"field":"g","type":"nominal","scale":{"domain":["n","m","p"],"range":["#0000ff","#000000","#ff0000"]},"legend":null}}},
    {"data":{"name":"thr"},"transform":[{"filter":"datum.p=='B1'"}],"mark":{"type":"rule","color":"#333333","strokeDash":[7,5],"strokeWidth":1},"encoding":{"x":{"field":"x","type":"quantitative","axis":null}}},
    {"data":{"name":"fits"},"transform":[{"filter":"datum.p=='B1'"}],"mark":{"type":"line","strokeWidth":1.5},"encoding":{"x":{"field":"x","type":"quantitative","axis":null},"y":{"field":"y","type":"quantitative","axis":null},"color":{"field":"g","type":"nominal","legend":null},"detail":{"field":"seg","type":"nominal"},"strokeDash":{"field":"part","type":"nominal","scale":{"domain":["fit","ext"],"range":[[1,0],[8,5]]},"legend":null}}},
    {"data":{"name":"ev"},"transform":[{"filter":"datum.p=='B1'"}],"mark":{"type":"circle","color":"#000000","size":75,"opacity":1},"encoding":{"x":{"field":"x","type":"quantitative","axis":{"orient":"top","labels":false,"title":null,"values":[-2,-1,0,1,2,3]}},"y":{"field":"y","type":"quantitative","axis":{"orient":"right","labels":false,"title":null,"values":[60,80,100,120,140]}}}},
    {"data":{"name":"lab"},"transform":[{"filter":"datum.p=='B1'"}],"mark":{"type":"text","align":"left","baseline":"middle","fontSize":14.5,"fontWeight":"bold","color":"#000000"},"encoding":{"x":{"field":"x","type":"quantitative","axis":null},"y":{"field":"y","type":"quantitative","axis":null},"text":{"field":"t","type":"nominal"}}},
    {"data":{"name":"rl"},"transform":[{"filter":"datum.p=='B1' && datum.g=='p'"}],"mark":{"type":"text","align":"right","baseline":"middle","fontSize":20,"fontWeight":"bold","color":"#ff0000"},"encoding":{"x":{"field":"x","type":"quantitative","axis":null},"y":{"field":"y","type":"quantitative","axis":null},"text":{"field":"t","type":"nominal"}}}
   ],"resolve":{"axis":{"x":"independent","y":"independent"}}},
  {"width":347,"height":263,"title":{"text":"Atlantic Niño","fontSize":24,"fontWeight":"bold","offset":0.5},
   "layer":[
    {"data":{"name":"pts"},"transform":[{"filter":"datum.p=='B2'"}],"mark":{"type":"point","shape":"circle","filled":false,"size":50,"strokeWidth":1,"opacity":1},"encoding":{"x":{"field":"x","type":"quantitative","scale":{"domain":[-1,1],"nice":false,"zero":false},"axis":{"values":[-1,-0.5,0,0.5,1],"format":"~g","title":"SSTA [°C]"}},"y":{"field":"y","type":"quantitative","scale":{"domain":[60,140],"nice":false,"zero":false},"axis":{"values":[60,80,100,120,140],"format":"d","title":null}},"color":{"field":"g","type":"nominal","scale":{"domain":["n","m","p"],"range":["#0000ff","#000000","#ff0000"]},"legend":null}}},
    {"data":{"name":"thr"},"transform":[{"filter":"datum.p=='B2'"}],"mark":{"type":"rule","color":"#333333","strokeDash":[7,5],"strokeWidth":1},"encoding":{"x":{"field":"x","type":"quantitative","axis":null}}},
    {"data":{"name":"fits"},"transform":[{"filter":"datum.p=='B2'"}],"mark":{"type":"line","strokeWidth":1.5},"encoding":{"x":{"field":"x","type":"quantitative","axis":null},"y":{"field":"y","type":"quantitative","axis":null},"color":{"field":"g","type":"nominal","legend":null},"detail":{"field":"seg","type":"nominal"},"strokeDash":{"field":"part","type":"nominal","scale":{"domain":["fit","ext"],"range":[[1,0],[8,5]]},"legend":null}}},
    {"data":{"name":"ev"},"transform":[{"filter":"datum.p=='B2'"}],"mark":{"type":"circle","color":"#000000","size":75,"opacity":1},"encoding":{"x":{"field":"x","type":"quantitative","axis":{"orient":"top","labels":false,"title":null,"values":[-1,-0.5,0,0.5,1]}},"y":{"field":"y","type":"quantitative","axis":{"orient":"right","labels":false,"title":null,"values":[60,80,100,120,140]}}}},
    {"data":{"name":"lab"},"transform":[{"filter":"datum.p=='B2'"}],"mark":{"type":"text","align":"left","baseline":"middle","fontSize":14.5,"fontWeight":"bold","color":"#000000"},"encoding":{"x":{"field":"x","type":"quantitative","axis":null},"y":{"field":"y","type":"quantitative","axis":null},"text":{"field":"t","type":"nominal"}}},
    {"data":{"name":"rl"},"transform":[{"filter":"datum.p=='B2' && datum.g=='n'"}],"mark":{"type":"text","align":"left","baseline":"middle","fontSize":20,"fontWeight":"bold","color":"#0000ff"},"encoding":{"x":{"field":"x","type":"quantitative","axis":null},"y":{"field":"y","type":"quantitative","axis":null},"text":{"field":"t","type":"nominal"}}},
    {"data":{"name":"rl"},"transform":[{"filter":"datum.p=='B2' && datum.g=='p'"}],"mark":{"type":"text","align":"right","baseline":"middle","fontSize":20,"fontWeight":"bold","color":"#ff0000"},"encoding":{"x":{"field":"x","type":"quantitative","axis":null},"y":{"field":"y","type":"quantitative","axis":null},"text":{"field":"t","type":"nominal"}}}
   ],"resolve":{"axis":{"x":"independent","y":"independent"}}},
  {"width":347,"height":263,"title":{"text":"El Niño Modoki","fontSize":24,"fontWeight":"bold","offset":-2.5,"dx":-3},
   "layer":[
    {"data":{"name":"pts"},"transform":[{"filter":"datum.p=='B3'"}],"mark":{"type":"point","shape":"circle","filled":false,"size":50,"strokeWidth":1,"opacity":1},"encoding":{"x":{"field":"x","type":"quantitative","scale":{"domain":[-1.5,1],"nice":false,"zero":false},"axis":{"values":[-1.5,-1,-0.5,0,0.5,1],"format":"~g","title":"SSTA [°C]"}},"y":{"field":"y","type":"quantitative","scale":{"domain":[60,140],"nice":false,"zero":false},"axis":{"values":[60,80,100,120,140],"format":"d","title":null}},"color":{"field":"g","type":"nominal","scale":{"domain":["n","m","p"],"range":["#0000ff","#000000","#ff0000"]},"legend":null}}},
    {"data":{"name":"thr"},"transform":[{"filter":"datum.p=='B3'"}],"mark":{"type":"rule","color":"#333333","strokeDash":[7,5],"strokeWidth":1},"encoding":{"x":{"field":"x","type":"quantitative","axis":null}}},
    {"data":{"name":"fits"},"transform":[{"filter":"datum.p=='B3'"}],"mark":{"type":"line","strokeWidth":1.5},"encoding":{"x":{"field":"x","type":"quantitative","axis":null},"y":{"field":"y","type":"quantitative","axis":null},"color":{"field":"g","type":"nominal","legend":null},"detail":{"field":"seg","type":"nominal"},"strokeDash":{"field":"part","type":"nominal","scale":{"domain":["fit","ext"],"range":[[1,0],[8,5]]},"legend":null}}},
    {"data":{"name":"ev"},"transform":[{"filter":"datum.p=='B3'"}],"mark":{"type":"circle","color":"#000000","size":75,"opacity":1},"encoding":{"x":{"field":"x","type":"quantitative","axis":{"orient":"top","labels":false,"title":null,"values":[-1.5,-1,-0.5,0,0.5,1]}},"y":{"field":"y","type":"quantitative","axis":{"orient":"right","labels":false,"title":null,"values":[60,80,100,120,140]}}}},
    {"data":{"name":"lab"},"transform":[{"filter":"datum.p=='B3'"}],"mark":{"type":"text","align":"left","baseline":"middle","fontSize":14.5,"fontWeight":"bold","color":"#000000"},"encoding":{"x":{"field":"x","type":"quantitative","axis":null},"y":{"field":"y","type":"quantitative","axis":null},"text":{"field":"t","type":"nominal"}}},
    {"data":{"name":"rl"},"transform":[{"filter":"datum.p=='B3' && datum.g=='p'"}],"mark":{"type":"text","align":"right","baseline":"middle","fontSize":20,"fontWeight":"bold","color":"#ff0000"},"encoding":{"x":{"field":"x","type":"quantitative","axis":null},"y":{"field":"y","type":"quantitative","axis":null},"text":{"field":"t","type":"nominal"}}}
   ],"resolve":{"axis":{"x":"independent","y":"independent"}}},
  {"width":347,"height":262,
   "layer":[
    {"data":{"name":"pts"},"transform":[{"filter":"datum.p=='B4'"}],"mark":{"type":"point","shape":"circle","filled":false,"size":50,"strokeWidth":1,"opacity":1},"encoding":{"x":{"field":"x","type":"quantitative","scale":{"domain":[-2,3],"nice":false,"zero":false},"axis":{"values":[-2,-1,0,1,2,3],"format":"~g","title":"SSTA [°C]"}},"y":{"field":"y","type":"quantitative","scale":{"domain":[70,140],"nice":false,"zero":false},"axis":{"values":[80,100,120,140],"format":"d","title":"Rx5day [%]"}},"color":{"field":"g","type":"nominal","scale":{"domain":["n","m","p"],"range":["#0000ff","#000000","#ff0000"]},"legend":null}}},
    {"data":{"name":"thr"},"transform":[{"filter":"datum.p=='B4'"}],"mark":{"type":"rule","color":"#333333","strokeDash":[7,5],"strokeWidth":1},"encoding":{"x":{"field":"x","type":"quantitative","axis":null}}},
    {"data":{"name":"fits"},"transform":[{"filter":"datum.p=='B4'"}],"mark":{"type":"line","strokeWidth":1.5},"encoding":{"x":{"field":"x","type":"quantitative","axis":null},"y":{"field":"y","type":"quantitative","axis":null},"color":{"field":"g","type":"nominal","legend":null},"detail":{"field":"seg","type":"nominal"},"strokeDash":{"field":"part","type":"nominal","scale":{"domain":["fit","ext"],"range":[[1,0],[8,5]]},"legend":null}}},
    {"data":{"name":"ev"},"transform":[{"filter":"datum.p=='B4'"}],"mark":{"type":"circle","color":"#000000","size":75,"opacity":1},"encoding":{"x":{"field":"x","type":"quantitative","axis":{"orient":"top","labels":false,"title":null,"values":[-2,-1,0,1,2,3]}},"y":{"field":"y","type":"quantitative","axis":{"orient":"right","labels":false,"title":null,"values":[80,100,120,140]}}}},
    {"data":{"name":"lab"},"transform":[{"filter":"datum.p=='B4'"}],"mark":{"type":"text","align":"left","baseline":"middle","fontSize":14.5,"fontWeight":"bold","color":"#000000"},"encoding":{"x":{"field":"x","type":"quantitative","axis":null},"y":{"field":"y","type":"quantitative","axis":null},"text":{"field":"t","type":"nominal"}}}
   ],"resolve":{"axis":{"x":"independent","y":"independent"}}},
  {"width":347,"height":262,
   "layer":[
    {"data":{"name":"pts"},"transform":[{"filter":"datum.p=='B5'"}],"mark":{"type":"point","shape":"circle","filled":false,"size":50,"strokeWidth":1,"opacity":1},"encoding":{"x":{"field":"x","type":"quantitative","scale":{"domain":[-1,1],"nice":false,"zero":false},"axis":{"values":[-1,-0.5,0,0.5,1],"format":"~g","title":"SSTA [°C]"}},"y":{"field":"y","type":"quantitative","scale":{"domain":[70,140],"nice":false,"zero":false},"axis":{"values":[80,100,120,140],"format":"d","title":null}},"color":{"field":"g","type":"nominal","scale":{"domain":["n","m","p"],"range":["#0000ff","#000000","#ff0000"]},"legend":null}}},
    {"data":{"name":"thr"},"transform":[{"filter":"datum.p=='B5'"}],"mark":{"type":"rule","color":"#333333","strokeDash":[7,5],"strokeWidth":1},"encoding":{"x":{"field":"x","type":"quantitative","axis":null}}},
    {"data":{"name":"fits"},"transform":[{"filter":"datum.p=='B5'"}],"mark":{"type":"line","strokeWidth":1.5},"encoding":{"x":{"field":"x","type":"quantitative","axis":null},"y":{"field":"y","type":"quantitative","axis":null},"color":{"field":"g","type":"nominal","legend":null},"detail":{"field":"seg","type":"nominal"},"strokeDash":{"field":"part","type":"nominal","scale":{"domain":["fit","ext"],"range":[[1,0],[8,5]]},"legend":null}}},
    {"data":{"name":"ev"},"transform":[{"filter":"datum.p=='B5'"}],"mark":{"type":"circle","color":"#000000","size":75,"opacity":1},"encoding":{"x":{"field":"x","type":"quantitative","axis":{"orient":"top","labels":false,"title":null,"values":[-1,-0.5,0,0.5,1]}},"y":{"field":"y","type":"quantitative","axis":{"orient":"right","labels":false,"title":null,"values":[80,100,120,140]}}}},
    {"data":{"name":"lab"},"transform":[{"filter":"datum.p=='B5'"}],"mark":{"type":"text","align":"left","baseline":"middle","fontSize":14.5,"fontWeight":"bold","color":"#000000"},"encoding":{"x":{"field":"x","type":"quantitative","axis":null},"y":{"field":"y","type":"quantitative","axis":null},"text":{"field":"t","type":"nominal"}}}
   ],"resolve":{"axis":{"x":"independent","y":"independent"}}},
  {"width":347,"height":262,
   "layer":[
    {"data":{"name":"pts"},"transform":[{"filter":"datum.p=='B6'"}],"mark":{"type":"point","shape":"circle","filled":false,"size":50,"strokeWidth":1,"opacity":1},"encoding":{"x":{"field":"x","type":"quantitative","scale":{"domain":[-1.5,1],"nice":false,"zero":false},"axis":{"values":[-1.5,-1,-0.5,0,0.5,1],"format":"~g","title":"SSTA [°C]"}},"y":{"field":"y","type":"quantitative","scale":{"domain":[70,140],"nice":false,"zero":false},"axis":{"values":[80,100,120,140],"format":"d","title":null}},"color":{"field":"g","type":"nominal","scale":{"domain":["n","m","p"],"range":["#0000ff","#000000","#ff0000"]},"legend":null}}},
    {"data":{"name":"thr"},"transform":[{"filter":"datum.p=='B6'"}],"mark":{"type":"rule","color":"#333333","strokeDash":[7,5],"strokeWidth":1},"encoding":{"x":{"field":"x","type":"quantitative","axis":null}}},
    {"data":{"name":"fits"},"transform":[{"filter":"datum.p=='B6'"}],"mark":{"type":"line","strokeWidth":1.5},"encoding":{"x":{"field":"x","type":"quantitative","axis":null},"y":{"field":"y","type":"quantitative","axis":null},"color":{"field":"g","type":"nominal","legend":null},"detail":{"field":"seg","type":"nominal"},"strokeDash":{"field":"part","type":"nominal","scale":{"domain":["fit","ext"],"range":[[1,0],[8,5]]},"legend":null}}},
    {"data":{"name":"ev"},"transform":[{"filter":"datum.p=='B6'"}],"mark":{"type":"circle","color":"#000000","size":75,"opacity":1},"encoding":{"x":{"field":"x","type":"quantitative","axis":{"orient":"top","labels":false,"title":null,"values":[-1.5,-1,-0.5,0,0.5,1]}},"y":{"field":"y","type":"quantitative","axis":{"orient":"right","labels":false,"title":null,"values":[80,100,120,140]}}}},
    {"data":{"name":"lab"},"transform":[{"filter":"datum.p=='B6'"}],"mark":{"type":"text","align":"left","baseline":"middle","fontSize":14.5,"fontWeight":"bold","color":"#000000"},"encoding":{"x":{"field":"x","type":"quantitative","axis":null},"y":{"field":"y","type":"quantitative","axis":null},"text":{"field":"t","type":"nominal"}}},
    {"data":{"name":"rl"},"transform":[{"filter":"datum.p=='B6' && datum.g=='p'"}],"mark":{"type":"text","align":"right","baseline":"middle","fontSize":20,"fontWeight":"bold","color":"#ff0000"},"encoding":{"x":{"field":"x","type":"quantitative","axis":null},"y":{"field":"y","type":"quantitative","axis":null},"text":{"field":"t","type":"nominal"}}}
   ],"resolve":{"axis":{"x":"independent","y":"independent"}}}
  ]}
 ]}
],
"config":{
 "font":"Liberation Sans",
 "view":{"stroke":"#000000","strokeWidth":1.2},
 "axis":{"grid":false,"domain":false,"tickSize":-6,"tickColor":"#000000","tickWidth":1,"labelFontSize":22,"labelColor":"#000000","labelPadding":13,"labelFlush":false,"labelOverlap":false,"titleFontSize":25,"titleFontWeight":"normal","titleColor":"#000000","titlePadding":9,"labelFont":"Liberation Sans","titleFont":"Liberation Sans"},
 "axisY":{"titleFontWeight":"bold","titlePadding":21,"labelPadding":11,"titleFontSize":24.5},
 "title":{"color":"#000000","font":"Liberation Sans"}
}
}
